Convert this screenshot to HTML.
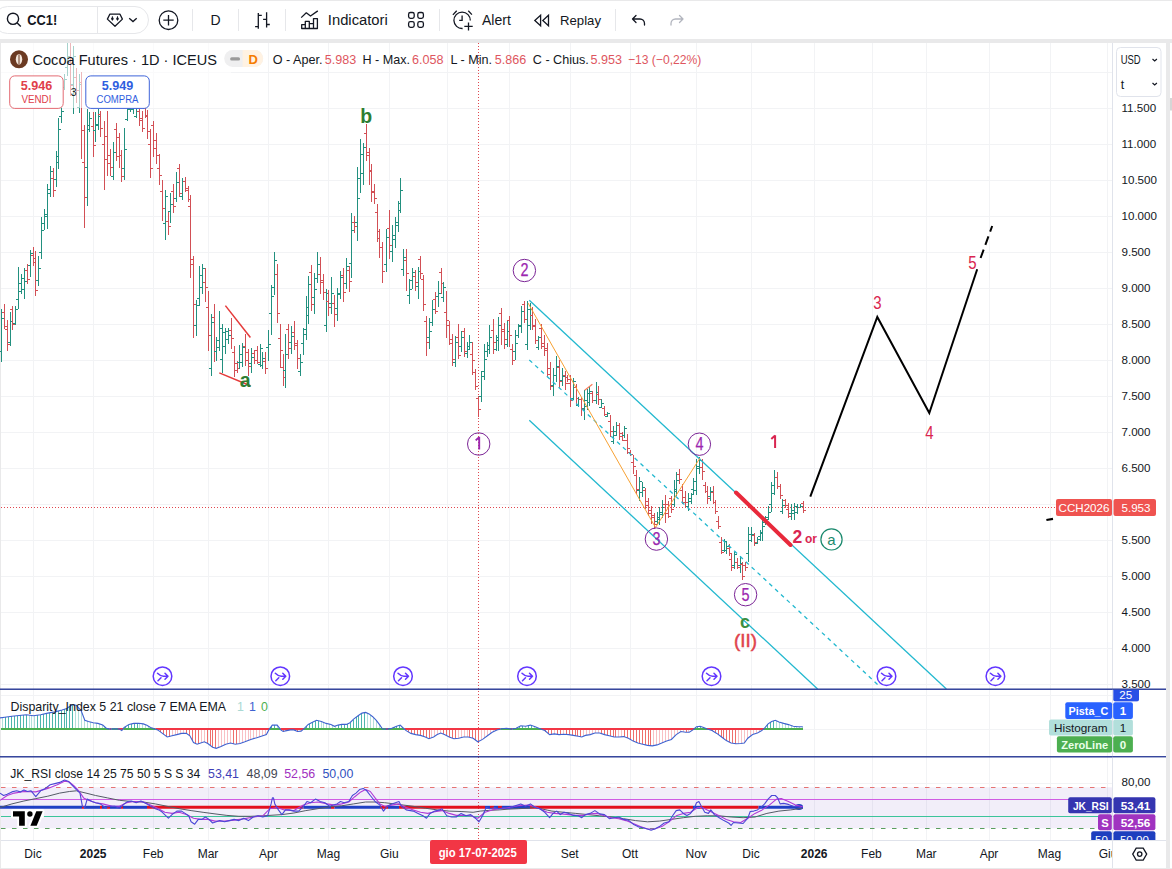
<!DOCTYPE html>
<html><head><meta charset="utf-8"><title>CC1! chart</title>
<style>
html,body{margin:0;padding:0;background:#fff;}
body{width:1172px;height:869px;overflow:hidden;}
svg{display:block;}
svg text{font-family:'Liberation Sans', sans-serif;}
</style></head>
<body><svg width="1172" height="869" viewBox="0 0 1172 869" font-family="'Liberation Sans', sans-serif">
<rect x="0" y="0" width="1172" height="869" fill="#ffffff"/>
<rect x="0" y="0" width="1172" height="1" fill="#e9e9ea"/>
<rect x="0" y="39" width="1172" height="4" fill="#e9e9ea"/>
<rect x="1166" y="39" width="4" height="830" fill="#e9e9ea"/>
<rect x="1170" y="43" width="2" height="825" fill="#ffffff"/>
<rect x="1170" y="98" width="2" height="12.5" fill="#d6d6d6"/>
<rect x="0" y="868" width="1172" height="1" fill="#e9e9ea"/>
<rect x="0" y="43" width="1" height="825" fill="#e9e9ea"/>
<g stroke="#f2f3f5" stroke-width="1" shape-rendering="crispEdges"><line x1="33.5" y1="43" x2="33.5" y2="840" /><line x1="93.5" y1="43" x2="93.5" y2="840" /><line x1="153.5" y1="43" x2="153.5" y2="840" /><line x1="208.5" y1="43" x2="208.5" y2="840" /><line x1="268.5" y1="43" x2="268.5" y2="840" /><line x1="328.5" y1="43" x2="328.5" y2="840" /><line x1="389.5" y1="43" x2="389.5" y2="840" /><line x1="447.5" y1="43" x2="447.5" y2="840" /><line x1="509.5" y1="43" x2="509.5" y2="840" /><line x1="570.5" y1="43" x2="570.5" y2="840" /><line x1="630.5" y1="43" x2="630.5" y2="840" /><line x1="696.5" y1="43" x2="696.5" y2="840" /><line x1="751.5" y1="43" x2="751.5" y2="840" /><line x1="814.5" y1="43" x2="814.5" y2="840" /><line x1="872.5" y1="43" x2="872.5" y2="840" /><line x1="926.5" y1="43" x2="926.5" y2="840" /><line x1="989.5" y1="43" x2="989.5" y2="840" /><line x1="1050.5" y1="43" x2="1050.5" y2="840" /><line x1="1107.5" y1="43" x2="1107.5" y2="840" /><line x1="1" y1="72.5" x2="1112" y2="72.5" /><line x1="1" y1="108.5" x2="1112" y2="108.5" /><line x1="1" y1="144.5" x2="1112" y2="144.5" /><line x1="1" y1="180.5" x2="1112" y2="180.5" /><line x1="1" y1="216.5" x2="1112" y2="216.5" /><line x1="1" y1="252.5" x2="1112" y2="252.5" /><line x1="1" y1="288.5" x2="1112" y2="288.5" /><line x1="1" y1="324.5" x2="1112" y2="324.5" /><line x1="1" y1="360.5" x2="1112" y2="360.5" /><line x1="1" y1="396.5" x2="1112" y2="396.5" /><line x1="1" y1="432.5" x2="1112" y2="432.5" /><line x1="1" y1="468.5" x2="1112" y2="468.5" /><line x1="1" y1="504.5" x2="1112" y2="504.5" /><line x1="1" y1="540.5" x2="1112" y2="540.5" /><line x1="1" y1="576.5" x2="1112" y2="576.5" /><line x1="1" y1="612.5" x2="1112" y2="612.5" /><line x1="1" y1="648.5" x2="1112" y2="648.5" /><line x1="1" y1="684.5" x2="1112" y2="684.5" /><line x1="1" y1="695.5" x2="1112" y2="695.5" /><line x1="1" y1="729.5" x2="1112" y2="729.5" /><line x1="1" y1="783.5" x2="1112" y2="783.5" /></g>
<g fill="none" stroke-width="1" shape-rendering="crispEdges"><path stroke="#22907f" d="M1.5,309V362M-1.0,351.5H1.5M1.5,318.5H4.0"/><path stroke="#d24f55" d="M4.5,304V329M2.0,312.5H4.5M4.5,326.5H7.0"/><path stroke="#d24f55" d="M7.5,320V351M5.0,329.5H7.5M7.5,344.5H10.0"/><path stroke="#22907f" d="M10.5,312V346M8.0,342.5H10.5M10.5,321.5H13.0"/><path stroke="#d24f55" d="M12.5,306V330M10.0,309.5H12.5M12.5,324.5H15.0"/><path stroke="#22907f" d="M15.5,306V325M13.0,323.5H15.5M15.5,309.5H18.0"/><path stroke="#22907f" d="M18.5,267V309M16.0,299.5H18.5M18.5,283.5H21.0"/><path stroke="#22907f" d="M21.5,274V294M19.0,291.5H21.5M21.5,278.5H24.0"/><path stroke="#22907f" d="M24.5,268V299M22.0,289.5H24.5M24.5,281.5H27.0"/><path stroke="#d24f55" d="M27.5,264V284M25.0,270.5H27.5M27.5,279.5H30.0"/><path stroke="#22907f" d="M30.5,250V277M28.0,265.5H30.5M30.5,253.5H33.0"/><path stroke="#d24f55" d="M33.5,247V266M31.0,255.5H33.5M33.5,262.5H36.0"/><path stroke="#d24f55" d="M35.5,251V296M33.0,258.5H35.5M35.5,290.5H38.0"/><path stroke="#22907f" d="M38.5,256V286M36.0,280.5H38.5M38.5,268.5H41.0"/><path stroke="#22907f" d="M41.5,217V259M39.0,252.5H41.5M41.5,230.5H44.0"/><path stroke="#22907f" d="M44.5,209V230M42.0,223.5H44.5M44.5,214.5H47.0"/><path stroke="#22907f" d="M47.5,184V229M45.0,216.5H47.5M47.5,189.5H50.0"/><path stroke="#22907f" d="M50.5,166V197M48.0,193.5H50.5M50.5,171.5H53.0"/><path stroke="#d24f55" d="M53.5,168V197M51.0,178.5H53.5M53.5,190.5H56.0"/><path stroke="#22907f" d="M56.5,151V187M54.0,179.5H56.5M56.5,162.5H59.0"/><path stroke="#22907f" d="M58.5,118V169M56.0,156.5H58.5M58.5,129.5H61.0"/><path stroke="#22907f" d="M61.5,105V123M59.0,116.5H61.5M61.5,111.5H64.0"/><path stroke="#22907f" d="M64.5,74V90M62.0,87.5H64.5M64.5,79.5H67.0"/><path stroke="#22907f" d="M67.5,43V76M65.0,67.5H67.5M67.5,56.5H70.0"/><path stroke="#d24f55" d="M70.5,43V96M68.0,62.5H70.5M70.5,85.5H73.0"/><path stroke="#22907f" d="M73.5,46V114M71.0,84.5H73.5M73.5,56.5H76.0"/><path stroke="#d24f55" d="M76.5,68V103M74.0,77.5H76.5M76.5,90.5H79.0"/><path stroke="#22907f" d="M79.5,74V113M77.0,107.5H79.5M79.5,84.5H82.0"/><path stroke="#d24f55" d="M81.5,72V159M79.0,82.5H81.5M81.5,130.5H84.0"/><path stroke="#d24f55" d="M84.5,125V228M82.0,162.5H84.5M84.5,197.5H87.0"/><path stroke="#22907f" d="M87.5,109V206M85.0,167.5H87.5M87.5,129.5H90.0"/><path stroke="#22907f" d="M89.5,112V132M87.0,125.5H89.5M89.5,118.5H92.0"/><path stroke="#d24f55" d="M93.5,112V157M91.0,126.5H93.5M93.5,145.5H96.0"/><path stroke="#22907f" d="M95.5,112V142M93.0,130.5H95.5M95.5,125.5H98.0"/><path stroke="#22907f" d="M98.5,109V130M96.0,124.5H98.5M98.5,116.5H101.0"/><path stroke="#d24f55" d="M100.5,111V137M98.0,114.5H100.5M100.5,128.5H103.0"/><path stroke="#d24f55" d="M104.5,121V190M102.0,144.5H104.5M104.5,159.5H107.0"/><path stroke="#d24f55" d="M107.5,111V176M105.0,136.5H107.5M107.5,163.5H110.0"/><path stroke="#d24f55" d="M110.5,149V176M108.0,155.5H110.5M110.5,167.5H113.0"/><path stroke="#22907f" d="M113.5,142V180M111.0,176.5H113.5M113.5,152.5H116.0"/><path stroke="#d24f55" d="M116.5,123V161M114.0,129.5H116.5M116.5,156.5H119.0"/><path stroke="#d24f55" d="M119.5,133V168M117.0,137.5H119.5M119.5,155.5H122.0"/><path stroke="#d24f55" d="M121.5,150V182M119.0,155.5H121.5M121.5,176.5H124.0"/><path stroke="#22907f" d="M124.5,128V180M122.0,168.5H124.5M124.5,149.5H127.0"/><path stroke="#22907f" d="M127.5,105V121M125.0,119.5H127.5M127.5,109.5H130.0"/><path stroke="#22907f" d="M130.5,100V112M128.0,108.5H130.5M130.5,105.5H133.0"/><path stroke="#22907f" d="M133.5,102V114M131.0,109.5H133.5M133.5,107.5H136.0"/><path stroke="#22907f" d="M136.5,104V118M134.0,116.5H136.5M136.5,108.5H139.0"/><path stroke="#d24f55" d="M139.5,106V126M137.0,111.5H139.5M139.5,118.5H142.0"/><path stroke="#d24f55" d="M142.5,111V132M140.0,120.5H142.5M142.5,128.5H145.0"/><path stroke="#d24f55" d="M145.5,106V118M143.0,108.5H145.5M145.5,116.5H148.0"/><path stroke="#d24f55" d="M147.5,110V139M145.0,115.5H147.5M147.5,131.5H150.0"/><path stroke="#d24f55" d="M150.5,129V178M148.0,144.5H150.5M150.5,168.5H153.0"/><path stroke="#d24f55" d="M153.5,121V157M151.0,125.5H153.5M153.5,148.5H156.0"/><path stroke="#d24f55" d="M156.5,133V164M154.0,140.5H156.5M156.5,155.5H159.0"/><path stroke="#d24f55" d="M159.5,154V185M157.0,168.5H159.5M159.5,175.5H162.0"/><path stroke="#d24f55" d="M162.5,180V221M160.0,191.5H162.5M162.5,208.5H165.0"/><path stroke="#22907f" d="M165.5,190V240M163.0,223.5H165.5M165.5,196.5H168.0"/><path stroke="#d24f55" d="M168.5,211V235M166.0,221.5H168.5M168.5,226.5H171.0"/><path stroke="#22907f" d="M170.5,193V223M168.0,211.5H170.5M170.5,204.5H173.0"/><path stroke="#d24f55" d="M173.5,184V213M171.0,191.5H173.5M173.5,206.5H176.0"/><path stroke="#22907f" d="M176.5,172V202M174.0,198.5H176.5M176.5,182.5H179.0"/><path stroke="#d24f55" d="M179.5,164V197M177.0,168.5H179.5M179.5,193.5H182.0"/><path stroke="#22907f" d="M182.5,178V200M180.0,196.5H182.5M182.5,181.5H185.0"/><path stroke="#d24f55" d="M185.5,177V192M183.0,181.5H185.5M185.5,190.5H188.0"/><path stroke="#d24f55" d="M188.5,186V202M186.0,188.5H188.5M188.5,199.5H191.0"/><path stroke="#d24f55" d="M190.5,195V278M188.0,206.5H190.5M190.5,259.5H193.0"/><path stroke="#d24f55" d="M193.5,256V338M191.0,264.5H193.5M193.5,304.5H196.0"/><path stroke="#22907f" d="M196.5,300V336M194.0,325.5H196.5M196.5,305.5H199.0"/><path stroke="#22907f" d="M199.5,266V306M197.0,298.5H199.5M199.5,275.5H202.0"/><path stroke="#22907f" d="M202.5,264V294M200.0,287.5H202.5M202.5,268.5H205.0"/><path stroke="#d24f55" d="M205.5,268V302M203.0,282.5H205.5M205.5,287.5H208.0"/><path stroke="#d24f55" d="M208.5,291V351M206.0,307.5H208.5M208.5,335.5H211.0"/><path stroke="#22907f" d="M211.5,314V376M209.0,368.5H211.5M211.5,322.5H214.0"/><path stroke="#d24f55" d="M214.5,304V362M212.0,317.5H214.5M214.5,351.5H217.0"/><path stroke="#22907f" d="M216.5,337V361M214.0,351.5H216.5M216.5,340.5H219.0"/><path stroke="#22907f" d="M219.5,311V351M217.0,347.5H219.5M219.5,328.5H222.0"/><path stroke="#22907f" d="M222.5,324V373M220.0,359.5H222.5M222.5,332.5H225.0"/><path stroke="#22907f" d="M225.5,328V354M223.0,346.5H225.5M225.5,331.5H228.0"/><path stroke="#22907f" d="M228.5,328V344M226.0,339.5H228.5M228.5,335.5H231.0"/><path stroke="#d24f55" d="M231.5,318V349M229.0,330.5H231.5M231.5,338.5H234.0"/><path stroke="#d24f55" d="M234.5,346V377M232.0,352.5H234.5M234.5,370.5H237.0"/><path stroke="#d24f55" d="M237.5,361V373M235.0,363.5H237.5M237.5,368.5H240.0"/><path stroke="#22907f" d="M239.5,345V369M237.0,362.5H239.5M239.5,354.5H242.0"/><path stroke="#22907f" d="M242.5,343V367M240.0,362.5H242.5M242.5,347.5H245.0"/><path stroke="#d24f55" d="M245.5,334V366M243.0,346.5H245.5M245.5,352.5H248.0"/><path stroke="#d24f55" d="M248.5,349V376M246.0,360.5H248.5M248.5,366.5H251.0"/><path stroke="#22907f" d="M251.5,348V373M249.0,363.5H251.5M251.5,357.5H254.0"/><path stroke="#d24f55" d="M254.5,350V364M252.0,353.5H254.5M254.5,360.5H257.0"/><path stroke="#d24f55" d="M257.5,346V364M255.0,350.5H257.5M257.5,362.5H260.0"/><path stroke="#22907f" d="M260.5,344V367M258.0,364.5H260.5M260.5,348.5H263.0"/><path stroke="#22907f" d="M262.5,352V369M260.0,365.5H262.5M262.5,358.5H265.0"/><path stroke="#d24f55" d="M265.5,352V374M263.0,361.5H265.5M265.5,368.5H268.0"/><path stroke="#22907f" d="M268.5,330V361M266.0,347.5H268.5M268.5,344.5H271.0"/><path stroke="#22907f" d="M271.5,285V335M269.0,313.5H271.5M271.5,296.5H274.0"/><path stroke="#22907f" d="M274.5,252V295M272.0,287.5H274.5M274.5,260.5H277.0"/><path stroke="#d24f55" d="M277.5,264V323M275.0,274.5H277.5M277.5,313.5H280.0"/><path stroke="#d24f55" d="M280.5,324V368M278.0,338.5H280.5M280.5,350.5H283.0"/><path stroke="#d24f55" d="M283.5,354V386M281.0,367.5H283.5M283.5,377.5H286.0"/><path stroke="#22907f" d="M285.5,334V388M283.0,370.5H285.5M285.5,354.5H288.0"/><path stroke="#d24f55" d="M288.5,324V359M286.0,329.5H288.5M288.5,348.5H291.0"/><path stroke="#22907f" d="M291.5,326V354M289.0,342.5H291.5M291.5,336.5H294.0"/><path stroke="#d24f55" d="M294.5,321V350M292.0,332.5H294.5M294.5,343.5H297.0"/><path stroke="#d24f55" d="M297.5,340V369M295.0,345.5H297.5M297.5,358.5H300.0"/><path stroke="#22907f" d="M300.5,354V376M298.0,371.5H300.5M300.5,362.5H303.0"/><path stroke="#22907f" d="M303.5,328V355M301.0,343.5H303.5M303.5,334.5H306.0"/><path stroke="#22907f" d="M306.5,296V340M304.0,329.5H306.5M306.5,315.5H309.0"/><path stroke="#22907f" d="M308.5,276V324M306.0,307.5H308.5M308.5,284.5H311.0"/><path stroke="#d24f55" d="M311.5,265V311M309.0,272.5H311.5M311.5,304.5H314.0"/><path stroke="#22907f" d="M314.5,273V314M312.0,297.5H314.5M314.5,289.5H317.0"/><path stroke="#22907f" d="M317.5,252V283M315.0,278.5H317.5M317.5,264.5H320.0"/><path stroke="#d24f55" d="M320.5,257V294M318.0,274.5H320.5M320.5,282.5H323.0"/><path stroke="#d24f55" d="M323.5,274V300M321.0,280.5H323.5M323.5,292.5H326.0"/><path stroke="#22907f" d="M326.5,289V332M324.0,325.5H326.5M326.5,293.5H329.0"/><path stroke="#d24f55" d="M328.5,290V316M326.0,301.5H328.5M328.5,307.5H331.0"/><path stroke="#22907f" d="M331.5,277V314M329.0,303.5H331.5M331.5,293.5H334.0"/><path stroke="#d24f55" d="M334.5,295V327M332.0,303.5H334.5M334.5,314.5H337.0"/><path stroke="#22907f" d="M337.5,288V321M335.0,308.5H337.5M337.5,294.5H340.0"/><path stroke="#22907f" d="M340.5,271V299M338.0,293.5H340.5M340.5,277.5H343.0"/><path stroke="#d24f55" d="M343.5,268V302M341.0,275.5H343.5M343.5,292.5H346.0"/><path stroke="#22907f" d="M346.5,258V289M344.0,283.5H346.5M346.5,266.5H349.0"/><path stroke="#d24f55" d="M349.5,266V292M347.0,270.5H349.5M349.5,281.5H352.0"/><path stroke="#22907f" d="M351.5,213V278M349.0,263.5H351.5M351.5,230.5H354.0"/><path stroke="#d24f55" d="M354.5,216V233M352.0,222.5H354.5M354.5,226.5H357.0"/><path stroke="#22907f" d="M357.5,167V241M355.0,222.5H357.5M357.5,198.5H360.0"/><path stroke="#22907f" d="M360.5,139V193M358.0,178.5H360.5M360.5,154.5H363.0"/><path stroke="#22907f" d="M363.5,143V185M361.0,173.5H363.5M363.5,147.5H366.0"/><path stroke="#d24f55" d="M366.5,124V161M364.0,133.5H366.5M366.5,155.5H369.0"/><path stroke="#d24f55" d="M369.5,148V185M367.0,152.5H369.5M369.5,171.5H372.0"/><path stroke="#d24f55" d="M371.5,164V202M369.0,170.5H371.5M371.5,192.5H374.0"/><path stroke="#d24f55" d="M374.5,184V204M372.0,191.5H374.5M374.5,198.5H377.0"/><path stroke="#d24f55" d="M377.5,204V242M375.0,212.5H377.5M377.5,231.5H380.0"/><path stroke="#d24f55" d="M379.5,229V258M377.0,238.5H379.5M379.5,247.5H382.0"/><path stroke="#d24f55" d="M382.5,242V283M380.0,247.5H382.5M382.5,271.5H385.0"/><path stroke="#22907f" d="M386.5,229V272M384.0,264.5H386.5M386.5,237.5H389.0"/><path stroke="#d24f55" d="M389.5,210V259M387.0,228.5H389.5M389.5,245.5H392.0"/><path stroke="#22907f" d="M392.5,225V262M390.0,251.5H392.5M392.5,239.5H395.0"/><path stroke="#22907f" d="M395.5,217V248M393.0,235.5H395.5M395.5,225.5H398.0"/><path stroke="#22907f" d="M398.5,201V232M396.0,222.5H398.5M398.5,210.5H401.0"/><path stroke="#22907f" d="M400.5,178V213M398.0,203.5H400.5M400.5,190.5H403.0"/><path stroke="#22907f" d="M403.5,249V276M401.0,269.5H403.5M403.5,257.5H406.0"/><path stroke="#d24f55" d="M406.5,249V291M404.0,260.5H406.5M406.5,273.5H409.0"/><path stroke="#22907f" d="M409.5,279V304M407.0,295.5H409.5M409.5,289.5H412.0"/><path stroke="#22907f" d="M412.5,268V289M410.0,280.5H412.5M412.5,272.5H415.0"/><path stroke="#d24f55" d="M415.5,270V291M413.0,276.5H415.5M415.5,282.5H418.0"/><path stroke="#22907f" d="M418.5,267V299M416.0,286.5H418.5M418.5,271.5H421.0"/><path stroke="#d24f55" d="M420.5,256V279M418.0,259.5H420.5M420.5,273.5H423.0"/><path stroke="#d24f55" d="M423.5,275V311M421.0,279.5H423.5M423.5,304.5H426.0"/><path stroke="#d24f55" d="M426.5,316V356M424.0,321.5H426.5M426.5,342.5H429.0"/><path stroke="#22907f" d="M429.5,318V349M427.0,337.5H429.5M429.5,331.5H432.0"/><path stroke="#22907f" d="M432.5,300V326M430.0,322.5H432.5M432.5,309.5H435.0"/><path stroke="#d24f55" d="M435.5,292V314M433.0,299.5H435.5M435.5,311.5H438.0"/><path stroke="#22907f" d="M438.5,281V307M436.0,296.5H438.5M438.5,293.5H441.0"/><path stroke="#d24f55" d="M441.5,268V294M439.0,272.5H441.5M441.5,283.5H444.0"/><path stroke="#22907f" d="M443.5,282V302M441.0,297.5H443.5M443.5,287.5H446.0"/><path stroke="#d24f55" d="M446.5,291V338M444.0,312.5H446.5M446.5,320.5H449.0"/><path stroke="#d24f55" d="M449.5,321V345M447.0,325.5H449.5M449.5,339.5H452.0"/><path stroke="#d24f55" d="M452.5,334V366M450.0,343.5H452.5M452.5,359.5H455.0"/><path stroke="#22907f" d="M455.5,336V367M453.0,362.5H455.5M455.5,342.5H458.0"/><path stroke="#d24f55" d="M458.5,324V359M456.0,337.5H458.5M458.5,355.5H461.0"/><path stroke="#22907f" d="M461.5,331V352M459.0,346.5H461.5M461.5,337.5H464.0"/><path stroke="#d24f55" d="M464.5,328V357M462.0,331.5H464.5M464.5,351.5H467.0"/><path stroke="#22907f" d="M467.5,342V358M465.0,353.5H467.5M467.5,346.5H470.0"/><path stroke="#22907f" d="M469.5,335V350M467.0,349.5H469.5M469.5,342.5H472.0"/><path stroke="#d24f55" d="M472.5,342V375M470.0,354.5H472.5M472.5,360.5H475.0"/><path stroke="#d24f55" d="M475.5,369V390M473.0,372.5H475.5M475.5,386.5H478.0"/><path stroke="#d24f55" d="M478.5,396V417M476.0,398.5H478.5M478.5,409.5H481.0"/><path stroke="#22907f" d="M481.5,371V402M479.0,396.5H481.5M481.5,376.5H484.0"/><path stroke="#22907f" d="M484.5,344V380M482.0,371.5H484.5M484.5,359.5H487.0"/><path stroke="#22907f" d="M487.5,342V357M485.0,351.5H487.5M487.5,345.5H490.0"/><path stroke="#22907f" d="M489.5,325V354M487.0,349.5H489.5M489.5,337.5H492.0"/><path stroke="#d24f55" d="M493.5,319V354M491.0,330.5H493.5M493.5,342.5H496.0"/><path stroke="#22907f" d="M496.5,335V351M494.0,349.5H496.5M496.5,337.5H499.0"/><path stroke="#22907f" d="M498.5,317V351M496.0,340.5H498.5M498.5,325.5H501.0"/><path stroke="#d24f55" d="M501.5,308V345M499.0,313.5H501.5M501.5,329.5H504.0"/><path stroke="#d24f55" d="M504.5,323V349M502.0,331.5H504.5M504.5,339.5H507.0"/><path stroke="#22907f" d="M507.5,320V347M505.0,344.5H507.5M507.5,331.5H510.0"/><path stroke="#d24f55" d="M509.5,316V347M507.0,320.5H509.5M509.5,335.5H512.0"/><path stroke="#d24f55" d="M512.5,344V365M510.0,349.5H512.5M512.5,360.5H515.0"/><path stroke="#22907f" d="M515.5,330V360M513.0,351.5H515.5M515.5,343.5H518.0"/><path stroke="#22907f" d="M518.5,324V338M516.0,335.5H518.5M518.5,326.5H521.0"/><path stroke="#22907f" d="M521.5,306V333M519.0,325.5H521.5M521.5,311.5H524.0"/><path stroke="#d24f55" d="M524.5,301V323M522.0,304.5H524.5M524.5,319.5H527.0"/><path stroke="#22907f" d="M527.5,301V350M525.0,344.5H527.5M527.5,309.5H530.0"/><path stroke="#22907f" d="M530.5,303V330M528.0,325.5H530.5M530.5,309.5H533.0"/><path stroke="#d24f55" d="M532.5,307V330M530.0,315.5H532.5M532.5,325.5H535.0"/><path stroke="#d24f55" d="M535.5,319V344M533.0,326.5H535.5M535.5,340.5H538.0"/><path stroke="#22907f" d="M538.5,336V350M536.0,347.5H538.5M538.5,337.5H541.0"/><path stroke="#d24f55" d="M541.5,324V349M539.0,328.5H541.5M541.5,346.5H544.0"/><path stroke="#d24f55" d="M544.5,335V356M542.0,343.5H544.5M544.5,350.5H547.0"/><path stroke="#d24f55" d="M547.5,343V377M545.0,348.5H547.5M547.5,368.5H550.0"/><path stroke="#d24f55" d="M550.5,362V390M548.0,374.5H550.5M550.5,386.5H553.0"/><path stroke="#22907f" d="M553.5,368V396M551.0,385.5H553.5M553.5,375.5H556.0"/><path stroke="#22907f" d="M556.5,356V382M554.0,375.5H556.5M556.5,366.5H559.0"/><path stroke="#d24f55" d="M559.5,360V388M557.0,367.5H559.5M559.5,381.5H562.0"/><path stroke="#22907f" d="M562.5,368V386M560.0,380.5H562.5M562.5,376.5H565.0"/><path stroke="#d24f55" d="M565.5,371V390M563.0,375.5H565.5M565.5,383.5H568.0"/><path stroke="#d24f55" d="M567.5,375V382M565.0,377.5H567.5M567.5,379.5H570.0"/><path stroke="#d24f55" d="M570.5,375V407M568.0,383.5H570.5M570.5,400.5H573.0"/><path stroke="#22907f" d="M573.5,378V400M571.0,398.5H573.5M573.5,381.5H576.0"/><path stroke="#d24f55" d="M576.5,384V406M574.0,387.5H576.5M576.5,398.5H579.0"/><path stroke="#22907f" d="M578.5,397V407M576.0,405.5H578.5M578.5,399.5H581.0"/><path stroke="#d24f55" d="M581.5,397V416M579.0,399.5H581.5M581.5,409.5H584.0"/><path stroke="#22907f" d="M584.5,390V420M582.0,408.5H584.5M584.5,400.5H587.0"/><path stroke="#22907f" d="M587.5,389V410M585.0,406.5H587.5M587.5,393.5H590.0"/><path stroke="#22907f" d="M589.5,386V406M587.0,402.5H589.5M589.5,391.5H592.0"/><path stroke="#d24f55" d="M592.5,391V403M590.0,393.5H592.5M592.5,400.5H595.0"/><path stroke="#22907f" d="M596.5,382V404M594.0,400.5H596.5M596.5,392.5H599.0"/><path stroke="#d24f55" d="M598.5,386V405M596.0,394.5H598.5M598.5,399.5H601.0"/><path stroke="#22907f" d="M601.5,399V408M599.0,407.5H601.5M601.5,403.5H604.0"/><path stroke="#d24f55" d="M604.5,406V416M602.0,408.5H604.5M604.5,414.5H607.0"/><path stroke="#22907f" d="M607.5,412V417M605.0,416.5H607.5M607.5,413.5H610.0"/><path stroke="#d24f55" d="M610.5,415V437M608.0,421.5H610.5M610.5,431.5H613.0"/><path stroke="#22907f" d="M613.5,426V444M611.0,441.5H613.5M613.5,431.5H616.0"/><path stroke="#22907f" d="M616.5,422V436M614.0,435.5H616.5M616.5,425.5H619.0"/><path stroke="#d24f55" d="M619.5,423V440M617.0,425.5H619.5M619.5,436.5H622.0"/><path stroke="#d24f55" d="M622.5,432V441M620.0,433.5H622.5M622.5,440.5H625.0"/><path stroke="#22907f" d="M624.5,426V438M622.0,435.5H624.5M624.5,428.5H627.0"/><path stroke="#d24f55" d="M627.5,434V454M625.0,440.5H627.5M627.5,448.5H630.0"/><path stroke="#d24f55" d="M630.5,450V456M628.0,452.5H630.5M630.5,454.5H633.0"/><path stroke="#d24f55" d="M633.5,455V474M631.0,462.5H633.5M633.5,466.5H636.0"/><path stroke="#d24f55" d="M636.5,470V494M634.0,475.5H636.5M636.5,489.5H639.0"/><path stroke="#22907f" d="M639.5,477V501M637.0,490.5H639.5M639.5,481.5H642.0"/><path stroke="#22907f" d="M642.5,482V497M640.0,492.5H642.5M642.5,487.5H645.0"/><path stroke="#d24f55" d="M645.5,488V509M643.0,490.5H645.5M645.5,501.5H648.0"/><path stroke="#d24f55" d="M648.5,498V516M646.0,505.5H648.5M648.5,510.5H651.0"/><path stroke="#d24f55" d="M651.5,506V524M649.0,513.5H651.5M651.5,517.5H654.0"/><path stroke="#d24f55" d="M654.5,513V529M652.0,515.5H654.5M654.5,524.5H657.0"/><path stroke="#22907f" d="M657.5,512V524M655.0,521.5H657.5M657.5,517.5H660.0"/><path stroke="#22907f" d="M659.5,507V525M657.0,519.5H659.5M659.5,514.5H662.0"/><path stroke="#22907f" d="M662.5,500V518M660.0,512.5H662.5M662.5,507.5H665.0"/><path stroke="#d24f55" d="M665.5,495V523M663.0,504.5H665.5M665.5,513.5H668.0"/><path stroke="#d24f55" d="M668.5,501V518M666.0,504.5H668.5M668.5,516.5H671.0"/><path stroke="#d24f55" d="M671.5,496V513M669.0,498.5H671.5M671.5,509.5H674.0"/><path stroke="#22907f" d="M674.5,480V507M672.0,504.5H674.5M674.5,491.5H677.0"/><path stroke="#22907f" d="M676.5,472V496M674.0,489.5H676.5M676.5,480.5H679.0"/><path stroke="#d24f55" d="M679.5,469V484M677.0,474.5H679.5M679.5,479.5H682.0"/><path stroke="#d24f55" d="M682.5,484V504M680.0,490.5H682.5M682.5,502.5H685.0"/><path stroke="#d24f55" d="M685.5,491V507M683.0,497.5H685.5M685.5,502.5H688.0"/><path stroke="#22907f" d="M688.5,493V511M686.0,506.5H688.5M688.5,498.5H691.0"/><path stroke="#22907f" d="M691.5,493V504M689.0,501.5H691.5M691.5,494.5H694.0"/><path stroke="#22907f" d="M693.5,478V495M691.0,489.5H693.5M693.5,481.5H696.0"/><path stroke="#22907f" d="M696.5,459V495M694.0,490.5H696.5M696.5,466.5H699.0"/><path stroke="#22907f" d="M699.5,457V474M697.0,468.5H699.5M699.5,460.5H702.0"/><path stroke="#d24f55" d="M702.5,459V480M700.0,467.5H702.5M702.5,471.5H705.0"/><path stroke="#d24f55" d="M705.5,482V493M703.0,485.5H705.5M705.5,491.5H708.0"/><path stroke="#d24f55" d="M707.5,486V504M705.0,491.5H707.5M707.5,498.5H710.0"/><path stroke="#22907f" d="M710.5,487V501M708.0,496.5H710.5M710.5,491.5H713.0"/><path stroke="#d24f55" d="M713.5,486V504M711.0,492.5H713.5M713.5,502.5H716.0"/><path stroke="#d24f55" d="M715.5,500V514M713.0,502.5H715.5M715.5,511.5H718.0"/><path stroke="#d24f55" d="M718.5,516V529M716.0,521.5H718.5M718.5,526.5H721.0"/><path stroke="#d24f55" d="M721.5,537V554M719.0,542.5H721.5M721.5,552.5H724.0"/><path stroke="#22907f" d="M724.5,539V552M722.0,550.5H724.5M724.5,541.5H727.0"/><path stroke="#22907f" d="M726.5,542V554M724.0,550.5H726.5M726.5,546.5H729.0"/><path stroke="#d24f55" d="M729.5,544V556M727.0,548.5H729.5M729.5,553.5H732.0"/><path stroke="#d24f55" d="M731.5,554V571M729.0,559.5H731.5M731.5,567.5H734.0"/><path stroke="#22907f" d="M734.5,552V569M732.0,565.5H734.5M734.5,554.5H737.0"/><path stroke="#d24f55" d="M737.5,558V569M735.0,562.5H737.5M737.5,567.5H740.0"/><path stroke="#22907f" d="M740.5,556V573M738.0,565.5H740.5M740.5,563.5H743.0"/><path stroke="#d24f55" d="M742.5,562V580M740.0,564.5H742.5M742.5,576.5H745.0"/><path stroke="#d24f55" d="M745.5,562V571M743.0,565.5H745.5M745.5,567.5H748.0"/><path stroke="#22907f" d="M748.5,527V562M746.0,553.5H748.5M748.5,534.5H751.0"/><path stroke="#22907f" d="M751.5,527V542M749.0,540.5H751.5M751.5,534.5H754.0"/><path stroke="#d24f55" d="M754.5,533V546M752.0,535.5H754.5M754.5,542.5H757.0"/><path stroke="#22907f" d="M757.5,537V544M755.0,543.5H757.5M757.5,539.5H760.0"/><path stroke="#22907f" d="M760.5,530V541M758.0,536.5H760.5M760.5,532.5H763.0"/><path stroke="#22907f" d="M762.5,520V541M760.0,533.5H762.5M762.5,526.5H765.0"/><path stroke="#22907f" d="M765.5,516V525M763.0,522.5H765.5M765.5,519.5H768.0"/><path stroke="#22907f" d="M768.5,506V520M766.0,517.5H768.5M768.5,512.5H771.0"/><path stroke="#22907f" d="M771.5,482V512M769.0,504.5H771.5M771.5,485.5H774.0"/><path stroke="#22907f" d="M774.5,470V495M772.0,493.5H774.5M774.5,477.5H777.0"/><path stroke="#d24f55" d="M777.5,472V489M775.0,477.5H777.5M777.5,486.5H780.0"/><path stroke="#d24f55" d="M780.5,484V499M778.0,486.5H780.5M780.5,495.5H783.0"/><path stroke="#22907f" d="M782.5,499V514M780.0,511.5H782.5M782.5,505.5H785.0"/><path stroke="#d24f55" d="M785.5,499V508M783.0,500.5H785.5M785.5,505.5H788.0"/><path stroke="#d24f55" d="M788.5,503V518M786.0,509.5H788.5M788.5,516.5H791.0"/><path stroke="#22907f" d="M791.5,504V520M789.0,513.5H791.5M791.5,510.5H794.0"/><path stroke="#22907f" d="M794.5,503V520M792.0,513.5H794.5M794.5,506.5H797.0"/><path stroke="#22907f" d="M797.5,504V514M795.0,512.5H797.5M797.5,507.5H800.0"/><path stroke="#22907f" d="M800.5,504V508M798.0,507.5H800.5M800.5,506.5H803.0"/><path stroke="#d24f55" d="M803.5,501V513M801.0,503.5H803.5M803.5,510.5H806.0"/></g>
<rect x="1" y="43" width="230" height="65" fill="#ffffff" fill-opacity="0.6"/>
<line x1="1" y1="507.5" x2="1056" y2="507.5" stroke="#e0474f" stroke-width="1" stroke-dasharray="1 2"/>
<line x1="478.5" y1="43" x2="478.5" y2="840" stroke="#e0474f" stroke-width="1" stroke-dasharray="1 2"/>
<line x1="529.3" y1="300.3" x2="946.4" y2="689.0" stroke="#22b8cf" stroke-width="1.3"/>
<line x1="529.3" y1="420.3" x2="817.6" y2="689.0" stroke="#22b8cf" stroke-width="1.3"/>
<line x1="529.3" y1="359.9" x2="878.8" y2="685.6" stroke="#22b8cf" stroke-width="1.3" stroke-dasharray="4 4"/>
<polyline points="528,303 655.5,527.5 700,458" fill="none" stroke="#f7a133" stroke-width="1"/>
<line x1="584.7" y1="390.2" x2="592.4" y2="384.2" stroke="#f77c5a" stroke-width="1.2"/>
<line x1="736" y1="492.5" x2="790.5" y2="545" stroke="#e8293b" stroke-width="4" stroke-linecap="round"/>
<line x1="225.4" y1="305.6" x2="250.4" y2="337.5" stroke="#e53a3a" stroke-width="1.5"/>
<line x1="219.3" y1="372.9" x2="250.4" y2="385.8" stroke="#e53a3a" stroke-width="1.5"/>
<polyline points="810.3,496.6 877.3,316.9 929.3,413 977.2,269.3" fill="none" stroke="#000" stroke-width="2"/>
<line x1="980.6" y1="258" x2="992.2" y2="226" stroke="#000" stroke-width="2" stroke-dasharray="9 5"/>
<line x1="1046.4" y1="520" x2="1053" y2="518.8" stroke="#000" stroke-width="2.2"/>
<circle cx="478.7" cy="444" r="11.2" fill="none" stroke="#7b2596" stroke-width="1"/>
<path d="M479.2,436.8 V449.4 M479.2,437.1 L475.7,440.4" fill="none" stroke="#9c27b0" stroke-width="1.9" stroke-linejoin="round"/>
<circle cx="524.4" cy="270.5" r="11.2" fill="none" stroke="#7b2596" stroke-width="1"/>
<text x="524.4" y="276.3" font-size="17.5" fill="#9c27b0" style="color:#9c27b0" font-weight="normal" text-anchor="middle" stroke="#9c27b0" stroke-width="0.25" textLength="8" lengthAdjust="spacingAndGlyphs">2</text>
<circle cx="656.4" cy="539.1" r="11.2" fill="none" stroke="#7b2596" stroke-width="1"/>
<text x="656.4" y="544.9" font-size="17.5" fill="#9c27b0" style="color:#9c27b0" font-weight="normal" text-anchor="middle" stroke="#9c27b0" stroke-width="0.25" textLength="8" lengthAdjust="spacingAndGlyphs">3</text>
<circle cx="699.4" cy="444.2" r="11.2" fill="none" stroke="#7b2596" stroke-width="1"/>
<text x="699.4" y="450.0" font-size="17.5" fill="#9c27b0" style="color:#9c27b0" font-weight="normal" text-anchor="middle" stroke="#9c27b0" stroke-width="0.25" textLength="8" lengthAdjust="spacingAndGlyphs">4</text>
<circle cx="745.6" cy="594.7" r="11.2" fill="none" stroke="#7b2596" stroke-width="1"/>
<text x="745.6" y="600.5" font-size="17.5" fill="#9c27b0" style="color:#9c27b0" font-weight="normal" text-anchor="middle" stroke="#9c27b0" stroke-width="0.25" textLength="8" lengthAdjust="spacingAndGlyphs">5</text>
<text x="366.3" y="123.3" font-size="19.5" fill="#2e7d32" style="color:#2e7d32" font-weight="bold" text-anchor="middle" >b</text>
<text x="245.2" y="386.5" font-size="19.5" fill="#2e7d32" style="color:#2e7d32" font-weight="bold" text-anchor="middle" >a</text>
<text x="745" y="627.5" font-size="18" fill="#3c8f40" style="color:#3c8f40" font-weight="bold" text-anchor="middle" >c</text>
<text x="745.6" y="647" font-size="18.5" fill="#e0444e" style="color:#e0444e" font-weight="normal" text-anchor="middle" stroke="#e0444e" stroke-width="0.5" textLength="23" lengthAdjust="spacingAndGlyphs">(II)</text>
<path d="M775.1,435.3 V448 M775.1,435.6 L771.3,439" fill="none" stroke="#d92550" stroke-width="2" stroke-linejoin="round"/>
<text x="797.3" y="542.7" font-size="17.5" fill="#d92550" style="color:#d92550" font-weight="bold" text-anchor="middle" >2</text>
<text x="810.9" y="542.7" font-size="12" fill="#d92550" style="color:#d92550" font-weight="bold" text-anchor="middle" >or</text>
<circle cx="831.5" cy="539.4" r="10.6" fill="none" stroke="#1b8a6e" stroke-width="1.2"/>
<text x="831.5" y="544.5" font-size="15" fill="#1b8a6e" style="color:#1b8a6e" font-weight="normal" text-anchor="middle" >a</text>
<text x="877.5" y="309" font-size="18.3" fill="#d92550" style="color:#d92550" font-weight="normal" text-anchor="middle"  textLength="8.3" lengthAdjust="spacingAndGlyphs">3</text>
<text x="929.3" y="439" font-size="18.3" fill="#d92550" style="color:#d92550" font-weight="normal" text-anchor="middle"  textLength="8.3" lengthAdjust="spacingAndGlyphs">4</text>
<text x="972.4" y="269" font-size="18.3" fill="#d92550" style="color:#d92550" font-weight="normal" text-anchor="middle"  textLength="8.3" lengthAdjust="spacingAndGlyphs">5</text>
<g transform="translate(162.5,676.2)" fill="none" stroke="#6236ff" stroke-width="1.5" stroke-linecap="round" stroke-linejoin="round"><circle r="9.3"/><path d="M-5,-3 Q-2,0 1,0 H5.5 M2.5,-3 L5.5,0 L2.5,3 M-1.5,1.5 L-4.5,4.5"/></g>
<g transform="translate(280.3,676.2)" fill="none" stroke="#6236ff" stroke-width="1.5" stroke-linecap="round" stroke-linejoin="round"><circle r="9.3"/><path d="M-5,-3 Q-2,0 1,0 H5.5 M2.5,-3 L5.5,0 L2.5,3 M-1.5,1.5 L-4.5,4.5"/></g>
<g transform="translate(403,676.2)" fill="none" stroke="#6236ff" stroke-width="1.5" stroke-linecap="round" stroke-linejoin="round"><circle r="9.3"/><path d="M-5,-3 Q-2,0 1,0 H5.5 M2.5,-3 L5.5,0 L2.5,3 M-1.5,1.5 L-4.5,4.5"/></g>
<g transform="translate(527,676.2)" fill="none" stroke="#6236ff" stroke-width="1.5" stroke-linecap="round" stroke-linejoin="round"><circle r="9.3"/><path d="M-5,-3 Q-2,0 1,0 H5.5 M2.5,-3 L5.5,0 L2.5,3 M-1.5,1.5 L-4.5,4.5"/></g>
<g transform="translate(711.5,676.2)" fill="none" stroke="#6236ff" stroke-width="1.5" stroke-linecap="round" stroke-linejoin="round"><circle r="9.3"/><path d="M-5,-3 Q-2,0 1,0 H5.5 M2.5,-3 L5.5,0 L2.5,3 M-1.5,1.5 L-4.5,4.5"/></g>
<g transform="translate(886.5,676.2)" fill="none" stroke="#6236ff" stroke-width="1.5" stroke-linecap="round" stroke-linejoin="round"><circle r="9.3"/><path d="M-5,-3 Q-2,0 1,0 H5.5 M2.5,-3 L5.5,0 L2.5,3 M-1.5,1.5 L-4.5,4.5"/></g>
<g transform="translate(995.4,676.2)" fill="none" stroke="#6236ff" stroke-width="1.5" stroke-linecap="round" stroke-linejoin="round"><circle r="9.3"/><path d="M-5,-3 Q-2,0 1,0 H5.5 M2.5,-3 L5.5,0 L2.5,3 M-1.5,1.5 L-4.5,4.5"/></g>
<rect x="1112" y="43" width="54" height="797" fill="#ffffff"/>
<line x1="1112.5" y1="43" x2="1112.5" y2="868" stroke="#e0e3eb" stroke-width="1"/>
<rect x="1116.5" y="47.5" width="44.5" height="49" rx="4" fill="#fff" stroke="#e0e3eb"/>
<text x="1120.7" y="64" font-size="12.5" fill="#131722" style="color:#131722" font-weight="normal" text-anchor="start"  textLength="20" lengthAdjust="spacingAndGlyphs">USD</text>
<text x="1120.7" y="88.5" font-size="12.5" fill="#131722" style="color:#131722" font-weight="normal" text-anchor="start" >t</text>
<path d="M1152.5,59 l2.2,2 l2.2,-2" fill="none" stroke="#131722" stroke-width="1.2"/>
<path d="M1152.5,83 l2.2,2 l2.2,-2" fill="none" stroke="#131722" stroke-width="1.2"/>
<text x="1121.5" y="112.3" font-size="11.6" fill="#131722" style="color:#131722" font-weight="normal" text-anchor="start" >11.500</text>
<text x="1121.5" y="148.3" font-size="11.6" fill="#131722" style="color:#131722" font-weight="normal" text-anchor="start" >11.000</text>
<text x="1121.5" y="184.3" font-size="11.6" fill="#131722" style="color:#131722" font-weight="normal" text-anchor="start" >10.500</text>
<text x="1121.5" y="220.3" font-size="11.6" fill="#131722" style="color:#131722" font-weight="normal" text-anchor="start" >10.000</text>
<text x="1121.5" y="256.3" font-size="11.6" fill="#131722" style="color:#131722" font-weight="normal" text-anchor="start" >9.500</text>
<text x="1121.5" y="292.3" font-size="11.6" fill="#131722" style="color:#131722" font-weight="normal" text-anchor="start" >9.000</text>
<text x="1121.5" y="328.3" font-size="11.6" fill="#131722" style="color:#131722" font-weight="normal" text-anchor="start" >8.500</text>
<text x="1121.5" y="364.3" font-size="11.6" fill="#131722" style="color:#131722" font-weight="normal" text-anchor="start" >8.000</text>
<text x="1121.5" y="400.3" font-size="11.6" fill="#131722" style="color:#131722" font-weight="normal" text-anchor="start" >7.500</text>
<text x="1121.5" y="436.3" font-size="11.6" fill="#131722" style="color:#131722" font-weight="normal" text-anchor="start" >7.000</text>
<text x="1121.5" y="472.3" font-size="11.6" fill="#131722" style="color:#131722" font-weight="normal" text-anchor="start" >6.500</text>
<text x="1121.5" y="544.3" font-size="11.6" fill="#131722" style="color:#131722" font-weight="normal" text-anchor="start" >5.500</text>
<text x="1121.5" y="580.3" font-size="11.6" fill="#131722" style="color:#131722" font-weight="normal" text-anchor="start" >5.000</text>
<text x="1121.5" y="616.3" font-size="11.6" fill="#131722" style="color:#131722" font-weight="normal" text-anchor="start" >4.500</text>
<text x="1121.5" y="652.3" font-size="11.6" fill="#131722" style="color:#131722" font-weight="normal" text-anchor="start" >4.000</text>
<text x="1121.5" y="688.3" font-size="11.6" fill="#131722" style="color:#131722" font-weight="normal" text-anchor="start" >3.500</text>
<rect x="1056" y="499" width="56" height="17" rx="2" fill="#ef5350"/>
<text x="1084" y="512" font-size="11.6" fill="#fff" style="color:#fff" font-weight="normal" text-anchor="middle" >CCH2026</text>
<rect x="1113.5" y="499" width="42.5" height="17" rx="2" fill="#ef5350"/>
<text x="1121.5" y="512" font-size="11.6" fill="#fff" style="color:#fff" font-weight="normal" text-anchor="start" >5.953</text>
<rect x="0" y="688.7" width="1166" height="1.1" fill="#30409a"/>
<rect x="0" y="756.2" width="1166" height="1.1" fill="#30409a"/>
<g stroke-width="1" shape-rendering="crispEdges"><line x1="2.5" y1="729" x2="2.5" y2="717.5" stroke="#b2dfdb"/><line x1="5.5" y1="729" x2="5.5" y2="717.1" stroke="#4db6ac"/><line x1="8.5" y1="729" x2="8.5" y2="716.7" stroke="#4db6ac"/><line x1="11.5" y1="729" x2="11.5" y2="716.3" stroke="#4db6ac"/><line x1="14.5" y1="729" x2="14.5" y2="716.0" stroke="#4db6ac"/><line x1="17.5" y1="729" x2="17.5" y2="715.7" stroke="#4db6ac"/><line x1="20.5" y1="729" x2="20.5" y2="715.4" stroke="#4db6ac"/><line x1="23.5" y1="729" x2="23.5" y2="715.1" stroke="#4db6ac"/><line x1="26.5" y1="729" x2="26.5" y2="714.8" stroke="#4db6ac"/><line x1="29.5" y1="729" x2="29.5" y2="715.2" stroke="#b2dfdb"/><line x1="31.5" y1="729" x2="31.5" y2="715.6" stroke="#b2dfdb"/><line x1="34.5" y1="729" x2="34.5" y2="715.6" stroke="#b2dfdb"/><line x1="37.5" y1="729" x2="37.5" y2="715.2" stroke="#4db6ac"/><line x1="40.5" y1="729" x2="40.5" y2="714.8" stroke="#4db6ac"/><line x1="43.5" y1="729" x2="43.5" y2="714.1" stroke="#4db6ac"/><line x1="46.5" y1="729" x2="46.5" y2="713.4" stroke="#4db6ac"/><line x1="49.5" y1="729" x2="49.5" y2="712.9" stroke="#4db6ac"/><line x1="52.5" y1="729" x2="52.5" y2="712.4" stroke="#4db6ac"/><line x1="55.5" y1="729" x2="55.5" y2="711.8" stroke="#4db6ac"/><line x1="58.5" y1="729" x2="58.5" y2="711.1" stroke="#4db6ac"/><line x1="61.5" y1="729" x2="61.5" y2="710.3" stroke="#4db6ac"/><line x1="64.5" y1="729" x2="64.5" y2="709.4" stroke="#4db6ac"/><line x1="66.5" y1="729" x2="66.5" y2="708.3" stroke="#4db6ac"/><line x1="69.5" y1="729" x2="69.5" y2="706.1" stroke="#4db6ac"/><line x1="72.5" y1="729" x2="72.5" y2="704.9" stroke="#4db6ac"/><line x1="75.5" y1="729" x2="75.5" y2="705.2" stroke="#b2dfdb"/><line x1="78.5" y1="729" x2="78.5" y2="707.8" stroke="#b2dfdb"/><line x1="81.5" y1="729" x2="81.5" y2="711.7" stroke="#b2dfdb"/><line x1="84.5" y1="729" x2="84.5" y2="719.5" stroke="#b2dfdb"/><line x1="87.5" y1="729" x2="87.5" y2="721.2" stroke="#b2dfdb"/><line x1="90.5" y1="729" x2="90.5" y2="722.0" stroke="#b2dfdb"/><line x1="93.5" y1="729" x2="93.5" y2="722.7" stroke="#b2dfdb"/><line x1="96.5" y1="729" x2="96.5" y2="723.1" stroke="#b2dfdb"/><line x1="99.5" y1="729" x2="99.5" y2="723.8" stroke="#b2dfdb"/><line x1="102.5" y1="729" x2="102.5" y2="724.8" stroke="#b2dfdb"/><line x1="104.5" y1="729" x2="104.5" y2="727.0" stroke="#b2dfdb"/><line x1="107.5" y1="729" x2="107.5" y2="728.6" stroke="#b2dfdb"/><line x1="110.5" y1="729" x2="110.5" y2="729.1" stroke="#ef6f6c"/><line x1="113.5" y1="729" x2="113.5" y2="728.8" stroke="#4db6ac"/><line x1="116.5" y1="729" x2="116.5" y2="728.9" stroke="#b2dfdb"/><line x1="119.5" y1="729" x2="119.5" y2="729.2" stroke="#ef6f6c"/><line x1="122.5" y1="729" x2="122.5" y2="729.8" stroke="#ef6f6c"/><line x1="125.5" y1="729" x2="125.5" y2="726.7" stroke="#4db6ac"/><line x1="128.5" y1="729" x2="128.5" y2="724.8" stroke="#4db6ac"/><line x1="131.5" y1="729" x2="131.5" y2="723.9" stroke="#4db6ac"/><line x1="134.5" y1="729" x2="134.5" y2="723.4" stroke="#4db6ac"/><line x1="137.5" y1="729" x2="137.5" y2="723.2" stroke="#4db6ac"/><line x1="139.5" y1="729" x2="139.5" y2="723.4" stroke="#b2dfdb"/><line x1="142.5" y1="729" x2="142.5" y2="723.8" stroke="#b2dfdb"/><line x1="145.5" y1="729" x2="145.5" y2="724.9" stroke="#b2dfdb"/><line x1="148.5" y1="729" x2="148.5" y2="726.4" stroke="#b2dfdb"/><line x1="151.5" y1="729" x2="151.5" y2="727.8" stroke="#b2dfdb"/><line x1="154.5" y1="729" x2="154.5" y2="728.8" stroke="#b2dfdb"/><line x1="157.5" y1="729" x2="157.5" y2="729.8" stroke="#ef6f6c"/><line x1="160.5" y1="729" x2="160.5" y2="731.9" stroke="#ef6f6c"/><line x1="163.5" y1="729" x2="163.5" y2="734.1" stroke="#ef6f6c"/><line x1="166.5" y1="729" x2="166.5" y2="736.3" stroke="#ef6f6c"/><line x1="169.5" y1="729" x2="169.5" y2="736.5" stroke="#ef6f6c"/><line x1="172.5" y1="729" x2="172.5" y2="735.8" stroke="#f9c0c4"/><line x1="175.5" y1="729" x2="175.5" y2="735.1" stroke="#f9c0c4"/><line x1="177.5" y1="729" x2="177.5" y2="734.3" stroke="#f9c0c4"/><line x1="180.5" y1="729" x2="180.5" y2="733.6" stroke="#f9c0c4"/><line x1="183.5" y1="729" x2="183.5" y2="733.4" stroke="#f9c0c4"/><line x1="186.5" y1="729" x2="186.5" y2="733.7" stroke="#ef6f6c"/><line x1="189.5" y1="729" x2="189.5" y2="735.6" stroke="#ef6f6c"/><line x1="192.5" y1="729" x2="192.5" y2="740.7" stroke="#ef6f6c"/><line x1="195.5" y1="729" x2="195.5" y2="743.4" stroke="#ef6f6c"/><line x1="198.5" y1="729" x2="198.5" y2="743.8" stroke="#ef6f6c"/><line x1="201.5" y1="729" x2="201.5" y2="742.8" stroke="#f9c0c4"/><line x1="204.5" y1="729" x2="204.5" y2="741.8" stroke="#f9c0c4"/><line x1="207.5" y1="729" x2="207.5" y2="743.2" stroke="#ef6f6c"/><line x1="210.5" y1="729" x2="210.5" y2="745.3" stroke="#ef6f6c"/><line x1="212.5" y1="729" x2="212.5" y2="747.4" stroke="#ef6f6c"/><line x1="215.5" y1="729" x2="215.5" y2="748.2" stroke="#ef6f6c"/><line x1="218.5" y1="729" x2="218.5" y2="747.3" stroke="#f9c0c4"/><line x1="221.5" y1="729" x2="221.5" y2="746.2" stroke="#f9c0c4"/><line x1="224.5" y1="729" x2="224.5" y2="744.7" stroke="#f9c0c4"/><line x1="227.5" y1="729" x2="227.5" y2="743.7" stroke="#f9c0c4"/><line x1="230.5" y1="729" x2="230.5" y2="743.0" stroke="#f9c0c4"/><line x1="233.5" y1="729" x2="233.5" y2="743.7" stroke="#ef6f6c"/><line x1="236.5" y1="729" x2="236.5" y2="744.0" stroke="#ef6f6c"/><line x1="239.5" y1="729" x2="239.5" y2="743.6" stroke="#f9c0c4"/><line x1="242.5" y1="729" x2="242.5" y2="742.7" stroke="#f9c0c4"/><line x1="245.5" y1="729" x2="245.5" y2="741.7" stroke="#f9c0c4"/><line x1="248.5" y1="729" x2="248.5" y2="740.5" stroke="#f9c0c4"/><line x1="250.5" y1="729" x2="250.5" y2="739.4" stroke="#f9c0c4"/><line x1="253.5" y1="729" x2="253.5" y2="738.6" stroke="#f9c0c4"/><line x1="256.5" y1="729" x2="256.5" y2="737.8" stroke="#f9c0c4"/><line x1="259.5" y1="729" x2="259.5" y2="736.8" stroke="#f9c0c4"/><line x1="262.5" y1="729" x2="262.5" y2="735.9" stroke="#f9c0c4"/><line x1="265.5" y1="729" x2="265.5" y2="734.9" stroke="#f9c0c4"/><line x1="268.5" y1="729" x2="268.5" y2="730.4" stroke="#f9c0c4"/><line x1="271.5" y1="729" x2="271.5" y2="726.4" stroke="#4db6ac"/><line x1="274.5" y1="729" x2="274.5" y2="725.1" stroke="#4db6ac"/><line x1="277.5" y1="729" x2="277.5" y2="725.2" stroke="#b2dfdb"/><line x1="280.5" y1="729" x2="280.5" y2="729.0" stroke="#ef6f6c"/><line x1="283.5" y1="729" x2="283.5" y2="731.5" stroke="#ef6f6c"/><line x1="285.5" y1="729" x2="285.5" y2="730.8" stroke="#f9c0c4"/><line x1="288.5" y1="729" x2="288.5" y2="730.1" stroke="#f9c0c4"/><line x1="291.5" y1="729" x2="291.5" y2="729.9" stroke="#f9c0c4"/><line x1="294.5" y1="729" x2="294.5" y2="730.3" stroke="#ef6f6c"/><line x1="297.5" y1="729" x2="297.5" y2="731.5" stroke="#ef6f6c"/><line x1="300.5" y1="729" x2="300.5" y2="731.1" stroke="#f9c0c4"/><line x1="303.5" y1="729" x2="303.5" y2="729.1" stroke="#f9c0c4"/><line x1="306.5" y1="729" x2="306.5" y2="726.3" stroke="#4db6ac"/><line x1="309.5" y1="729" x2="309.5" y2="723.8" stroke="#4db6ac"/><line x1="312.5" y1="729" x2="312.5" y2="722.3" stroke="#4db6ac"/><line x1="315.5" y1="729" x2="315.5" y2="721.0" stroke="#4db6ac"/><line x1="318.5" y1="729" x2="318.5" y2="720.7" stroke="#4db6ac"/><line x1="321.5" y1="729" x2="321.5" y2="721.4" stroke="#b2dfdb"/><line x1="323.5" y1="729" x2="323.5" y2="722.5" stroke="#b2dfdb"/><line x1="326.5" y1="729" x2="326.5" y2="723.6" stroke="#b2dfdb"/><line x1="329.5" y1="729" x2="329.5" y2="724.1" stroke="#b2dfdb"/><line x1="332.5" y1="729" x2="332.5" y2="725.3" stroke="#b2dfdb"/><line x1="335.5" y1="729" x2="335.5" y2="725.9" stroke="#b2dfdb"/><line x1="338.5" y1="729" x2="338.5" y2="725.0" stroke="#4db6ac"/><line x1="341.5" y1="729" x2="341.5" y2="724.4" stroke="#4db6ac"/><line x1="344.5" y1="729" x2="344.5" y2="724.4" stroke="#4db6ac"/><line x1="347.5" y1="729" x2="347.5" y2="724.0" stroke="#4db6ac"/><line x1="350.5" y1="729" x2="350.5" y2="722.5" stroke="#4db6ac"/><line x1="353.5" y1="729" x2="353.5" y2="719.6" stroke="#4db6ac"/><line x1="356.5" y1="729" x2="356.5" y2="717.3" stroke="#4db6ac"/><line x1="358.5" y1="729" x2="358.5" y2="715.1" stroke="#4db6ac"/><line x1="361.5" y1="729" x2="361.5" y2="713.2" stroke="#4db6ac"/><line x1="364.5" y1="729" x2="364.5" y2="712.6" stroke="#4db6ac"/><line x1="367.5" y1="729" x2="367.5" y2="713.3" stroke="#b2dfdb"/><line x1="370.5" y1="729" x2="370.5" y2="715.1" stroke="#b2dfdb"/><line x1="373.5" y1="729" x2="373.5" y2="717.6" stroke="#b2dfdb"/><line x1="376.5" y1="729" x2="376.5" y2="720.6" stroke="#b2dfdb"/><line x1="379.5" y1="729" x2="379.5" y2="724.5" stroke="#b2dfdb"/><line x1="382.5" y1="729" x2="382.5" y2="728.7" stroke="#b2dfdb"/><line x1="385.5" y1="729" x2="385.5" y2="729.0" stroke="#b2dfdb"/><line x1="388.5" y1="729" x2="388.5" y2="728.9" stroke="#4db6ac"/><line x1="391.5" y1="729" x2="391.5" y2="728.3" stroke="#4db6ac"/><line x1="394.5" y1="729" x2="394.5" y2="727.3" stroke="#4db6ac"/><line x1="396.5" y1="729" x2="396.5" y2="726.2" stroke="#4db6ac"/><line x1="399.5" y1="729" x2="399.5" y2="725.2" stroke="#4db6ac"/><line x1="402.5" y1="729" x2="402.5" y2="727.6" stroke="#b2dfdb"/><line x1="405.5" y1="729" x2="405.5" y2="730.2" stroke="#ef6f6c"/><line x1="408.5" y1="729" x2="408.5" y2="732.0" stroke="#ef6f6c"/><line x1="411.5" y1="729" x2="411.5" y2="733.6" stroke="#ef6f6c"/><line x1="414.5" y1="729" x2="414.5" y2="734.3" stroke="#ef6f6c"/><line x1="417.5" y1="729" x2="417.5" y2="734.9" stroke="#ef6f6c"/><line x1="420.5" y1="729" x2="420.5" y2="735.3" stroke="#ef6f6c"/><line x1="423.5" y1="729" x2="423.5" y2="736.3" stroke="#ef6f6c"/><line x1="426.5" y1="729" x2="426.5" y2="737.4" stroke="#ef6f6c"/><line x1="429.5" y1="729" x2="429.5" y2="738.6" stroke="#ef6f6c"/><line x1="431.5" y1="729" x2="431.5" y2="737.6" stroke="#f9c0c4"/><line x1="434.5" y1="729" x2="434.5" y2="736.2" stroke="#f9c0c4"/><line x1="437.5" y1="729" x2="437.5" y2="734.4" stroke="#f9c0c4"/><line x1="440.5" y1="729" x2="440.5" y2="733.0" stroke="#f9c0c4"/><line x1="443.5" y1="729" x2="443.5" y2="734.3" stroke="#ef6f6c"/><line x1="446.5" y1="729" x2="446.5" y2="735.7" stroke="#ef6f6c"/><line x1="449.5" y1="729" x2="449.5" y2="737.1" stroke="#ef6f6c"/><line x1="452.5" y1="729" x2="452.5" y2="738.2" stroke="#ef6f6c"/><line x1="455.5" y1="729" x2="455.5" y2="738.6" stroke="#ef6f6c"/><line x1="458.5" y1="729" x2="458.5" y2="738.3" stroke="#f9c0c4"/><line x1="461.5" y1="729" x2="461.5" y2="737.6" stroke="#f9c0c4"/><line x1="464.5" y1="729" x2="464.5" y2="737.0" stroke="#f9c0c4"/><line x1="467.5" y1="729" x2="467.5" y2="737.0" stroke="#f9c0c4"/><line x1="469.5" y1="729" x2="469.5" y2="737.4" stroke="#ef6f6c"/><line x1="472.5" y1="729" x2="472.5" y2="738.2" stroke="#ef6f6c"/><line x1="475.5" y1="729" x2="475.5" y2="740.3" stroke="#ef6f6c"/><line x1="478.5" y1="729" x2="478.5" y2="741.4" stroke="#ef6f6c"/><line x1="481.5" y1="729" x2="481.5" y2="739.9" stroke="#f9c0c4"/><line x1="484.5" y1="729" x2="484.5" y2="738.0" stroke="#f9c0c4"/><line x1="487.5" y1="729" x2="487.5" y2="735.8" stroke="#f9c0c4"/><line x1="490.5" y1="729" x2="490.5" y2="733.6" stroke="#f9c0c4"/><line x1="493.5" y1="729" x2="493.5" y2="731.7" stroke="#f9c0c4"/><line x1="496.5" y1="729" x2="496.5" y2="730.2" stroke="#f9c0c4"/><line x1="499.5" y1="729" x2="499.5" y2="729.3" stroke="#f9c0c4"/><line x1="502.5" y1="729" x2="502.5" y2="728.6" stroke="#4db6ac"/><line x1="504.5" y1="729" x2="504.5" y2="728.3" stroke="#4db6ac"/><line x1="507.5" y1="729" x2="507.5" y2="728.5" stroke="#b2dfdb"/><line x1="510.5" y1="729" x2="510.5" y2="729.1" stroke="#ef6f6c"/><line x1="513.5" y1="729" x2="513.5" y2="728.7" stroke="#4db6ac"/><line x1="516.5" y1="729" x2="516.5" y2="727.9" stroke="#4db6ac"/><line x1="519.5" y1="729" x2="519.5" y2="726.4" stroke="#4db6ac"/><line x1="522.5" y1="729" x2="522.5" y2="726.0" stroke="#4db6ac"/><line x1="525.5" y1="729" x2="525.5" y2="726.3" stroke="#b2dfdb"/><line x1="528.5" y1="729" x2="528.5" y2="725.6" stroke="#4db6ac"/><line x1="531.5" y1="729" x2="531.5" y2="725.4" stroke="#4db6ac"/><line x1="534.5" y1="729" x2="534.5" y2="726.4" stroke="#b2dfdb"/><line x1="537.5" y1="729" x2="537.5" y2="727.5" stroke="#b2dfdb"/><line x1="540.5" y1="729" x2="540.5" y2="728.7" stroke="#b2dfdb"/><line x1="542.5" y1="729" x2="542.5" y2="729.9" stroke="#ef6f6c"/><line x1="545.5" y1="729" x2="545.5" y2="731.5" stroke="#ef6f6c"/><line x1="548.5" y1="729" x2="548.5" y2="734.0" stroke="#ef6f6c"/><line x1="551.5" y1="729" x2="551.5" y2="734.3" stroke="#ef6f6c"/><line x1="554.5" y1="729" x2="554.5" y2="734.0" stroke="#f9c0c4"/><line x1="557.5" y1="729" x2="557.5" y2="734.4" stroke="#ef6f6c"/><line x1="560.5" y1="729" x2="560.5" y2="734.5" stroke="#ef6f6c"/><line x1="563.5" y1="729" x2="563.5" y2="734.2" stroke="#f9c0c4"/><line x1="566.5" y1="729" x2="566.5" y2="734.4" stroke="#ef6f6c"/><line x1="569.5" y1="729" x2="569.5" y2="734.7" stroke="#ef6f6c"/><line x1="572.5" y1="729" x2="572.5" y2="735.2" stroke="#ef6f6c"/><line x1="575.5" y1="729" x2="575.5" y2="735.7" stroke="#ef6f6c"/><line x1="577.5" y1="729" x2="577.5" y2="736.3" stroke="#ef6f6c"/><line x1="580.5" y1="729" x2="580.5" y2="736.8" stroke="#ef6f6c"/><line x1="583.5" y1="729" x2="583.5" y2="736.1" stroke="#f9c0c4"/><line x1="586.5" y1="729" x2="586.5" y2="735.2" stroke="#f9c0c4"/><line x1="589.5" y1="729" x2="589.5" y2="734.7" stroke="#f9c0c4"/><line x1="592.5" y1="729" x2="592.5" y2="733.8" stroke="#f9c0c4"/><line x1="595.5" y1="729" x2="595.5" y2="733.0" stroke="#f9c0c4"/><line x1="598.5" y1="729" x2="598.5" y2="733.0" stroke="#f9c0c4"/><line x1="601.5" y1="729" x2="601.5" y2="733.5" stroke="#ef6f6c"/><line x1="604.5" y1="729" x2="604.5" y2="734.6" stroke="#ef6f6c"/><line x1="607.5" y1="729" x2="607.5" y2="735.3" stroke="#ef6f6c"/><line x1="610.5" y1="729" x2="610.5" y2="736.0" stroke="#ef6f6c"/><line x1="613.5" y1="729" x2="613.5" y2="736.8" stroke="#ef6f6c"/><line x1="615.5" y1="729" x2="615.5" y2="737.0" stroke="#ef6f6c"/><line x1="618.5" y1="729" x2="618.5" y2="737.0" stroke="#f9c0c4"/><line x1="621.5" y1="729" x2="621.5" y2="736.7" stroke="#f9c0c4"/><line x1="624.5" y1="729" x2="624.5" y2="736.9" stroke="#ef6f6c"/><line x1="627.5" y1="729" x2="627.5" y2="738.0" stroke="#ef6f6c"/><line x1="630.5" y1="729" x2="630.5" y2="739.5" stroke="#ef6f6c"/><line x1="633.5" y1="729" x2="633.5" y2="741.2" stroke="#ef6f6c"/><line x1="636.5" y1="729" x2="636.5" y2="742.4" stroke="#ef6f6c"/><line x1="639.5" y1="729" x2="639.5" y2="743.3" stroke="#ef6f6c"/><line x1="642.5" y1="729" x2="642.5" y2="744.1" stroke="#ef6f6c"/><line x1="645.5" y1="729" x2="645.5" y2="744.8" stroke="#ef6f6c"/><line x1="648.5" y1="729" x2="648.5" y2="745.4" stroke="#ef6f6c"/><line x1="650.5" y1="729" x2="650.5" y2="745.7" stroke="#ef6f6c"/><line x1="653.5" y1="729" x2="653.5" y2="745.5" stroke="#f9c0c4"/><line x1="656.5" y1="729" x2="656.5" y2="745.0" stroke="#f9c0c4"/><line x1="659.5" y1="729" x2="659.5" y2="743.8" stroke="#f9c0c4"/><line x1="662.5" y1="729" x2="662.5" y2="742.7" stroke="#f9c0c4"/><line x1="665.5" y1="729" x2="665.5" y2="741.5" stroke="#f9c0c4"/><line x1="668.5" y1="729" x2="668.5" y2="740.4" stroke="#f9c0c4"/><line x1="671.5" y1="729" x2="671.5" y2="739.4" stroke="#f9c0c4"/><line x1="674.5" y1="729" x2="674.5" y2="736.5" stroke="#f9c0c4"/><line x1="677.5" y1="729" x2="677.5" y2="733.9" stroke="#f9c0c4"/><line x1="680.5" y1="729" x2="680.5" y2="732.0" stroke="#f9c0c4"/><line x1="683.5" y1="729" x2="683.5" y2="731.9" stroke="#f9c0c4"/><line x1="686.5" y1="729" x2="686.5" y2="732.3" stroke="#ef6f6c"/><line x1="688.5" y1="729" x2="688.5" y2="732.3" stroke="#f9c0c4"/><line x1="691.5" y1="729" x2="691.5" y2="730.5" stroke="#f9c0c4"/><line x1="694.5" y1="729" x2="694.5" y2="728.2" stroke="#4db6ac"/><line x1="697.5" y1="729" x2="697.5" y2="726.6" stroke="#4db6ac"/><line x1="700.5" y1="729" x2="700.5" y2="726.5" stroke="#4db6ac"/><line x1="703.5" y1="729" x2="703.5" y2="727.4" stroke="#b2dfdb"/><line x1="706.5" y1="729" x2="706.5" y2="728.8" stroke="#b2dfdb"/><line x1="709.5" y1="729" x2="709.5" y2="729.8" stroke="#ef6f6c"/><line x1="712.5" y1="729" x2="712.5" y2="730.8" stroke="#ef6f6c"/><line x1="715.5" y1="729" x2="715.5" y2="732.5" stroke="#ef6f6c"/><line x1="718.5" y1="729" x2="718.5" y2="734.5" stroke="#ef6f6c"/><line x1="721.5" y1="729" x2="721.5" y2="736.7" stroke="#ef6f6c"/><line x1="723.5" y1="729" x2="723.5" y2="738.8" stroke="#ef6f6c"/><line x1="726.5" y1="729" x2="726.5" y2="740.9" stroke="#ef6f6c"/><line x1="729.5" y1="729" x2="729.5" y2="742.4" stroke="#ef6f6c"/><line x1="732.5" y1="729" x2="732.5" y2="743.2" stroke="#ef6f6c"/><line x1="735.5" y1="729" x2="735.5" y2="743.7" stroke="#ef6f6c"/><line x1="738.5" y1="729" x2="738.5" y2="743.6" stroke="#f9c0c4"/><line x1="741.5" y1="729" x2="741.5" y2="743.4" stroke="#f9c0c4"/><line x1="744.5" y1="729" x2="744.5" y2="742.8" stroke="#f9c0c4"/><line x1="747.5" y1="729" x2="747.5" y2="738.9" stroke="#f9c0c4"/><line x1="750.5" y1="729" x2="750.5" y2="736.4" stroke="#f9c0c4"/><line x1="753.5" y1="729" x2="753.5" y2="734.4" stroke="#f9c0c4"/><line x1="756.5" y1="729" x2="756.5" y2="733.4" stroke="#f9c0c4"/><line x1="759.5" y1="729" x2="759.5" y2="732.1" stroke="#f9c0c4"/><line x1="761.5" y1="729" x2="761.5" y2="730.3" stroke="#f9c0c4"/><line x1="764.5" y1="729" x2="764.5" y2="727.8" stroke="#4db6ac"/><line x1="767.5" y1="729" x2="767.5" y2="724.3" stroke="#4db6ac"/><line x1="770.5" y1="729" x2="770.5" y2="722.2" stroke="#4db6ac"/><line x1="773.5" y1="729" x2="773.5" y2="720.9" stroke="#4db6ac"/><line x1="776.5" y1="729" x2="776.5" y2="720.9" stroke="#b2dfdb"/><line x1="779.5" y1="729" x2="779.5" y2="722.1" stroke="#b2dfdb"/><line x1="782.5" y1="729" x2="782.5" y2="723.0" stroke="#b2dfdb"/><line x1="785.5" y1="729" x2="785.5" y2="723.8" stroke="#b2dfdb"/><line x1="788.5" y1="729" x2="788.5" y2="724.5" stroke="#b2dfdb"/><line x1="791.5" y1="729" x2="791.5" y2="725.5" stroke="#b2dfdb"/><line x1="794.5" y1="729" x2="794.5" y2="726.4" stroke="#b2dfdb"/><line x1="796.5" y1="729" x2="796.5" y2="726.7" stroke="#b2dfdb"/><line x1="799.5" y1="729" x2="799.5" y2="726.8" stroke="#b2dfdb"/><line x1="802.5" y1="729" x2="802.5" y2="726.8" stroke="#b2dfdb"/></g>
<line x1="1.0" y1="729" x2="109.5" y2="729" stroke="#4caf50" stroke-width="2"/>
<line x1="109.5" y1="729" x2="111.5" y2="729" stroke="#f23645" stroke-width="2"/>
<line x1="111.5" y1="729" x2="118.0" y2="729" stroke="#4caf50" stroke-width="2"/>
<line x1="118.0" y1="729" x2="123.5" y2="729" stroke="#f23645" stroke-width="2"/>
<line x1="123.5" y1="729" x2="155.5" y2="729" stroke="#4caf50" stroke-width="2"/>
<line x1="155.5" y1="729" x2="269.5" y2="729" stroke="#f23645" stroke-width="2"/>
<line x1="269.5" y1="729" x2="280.5" y2="729" stroke="#4caf50" stroke-width="2"/>
<line x1="280.5" y1="729" x2="304.0" y2="729" stroke="#f23645" stroke-width="2"/>
<line x1="304.0" y1="729" x2="386.0" y2="729" stroke="#4caf50" stroke-width="2"/>
<line x1="386.0" y1="729" x2="388.0" y2="729" stroke="#f23645" stroke-width="2"/>
<line x1="388.0" y1="729" x2="404.5" y2="729" stroke="#4caf50" stroke-width="2"/>
<line x1="404.5" y1="729" x2="500.5" y2="729" stroke="#f23645" stroke-width="2"/>
<line x1="500.5" y1="729" x2="511.0" y2="729" stroke="#4caf50" stroke-width="2"/>
<line x1="511.0" y1="729" x2="512.5" y2="729" stroke="#f23645" stroke-width="2"/>
<line x1="512.5" y1="729" x2="541.0" y2="729" stroke="#4caf50" stroke-width="2"/>
<line x1="541.0" y1="729" x2="694.0" y2="729" stroke="#f23645" stroke-width="2"/>
<line x1="694.0" y1="729" x2="707.0" y2="729" stroke="#4caf50" stroke-width="2"/>
<line x1="707.0" y1="729" x2="764.0" y2="729" stroke="#f23645" stroke-width="2"/>
<line x1="764.0" y1="729" x2="803" y2="729" stroke="#4caf50" stroke-width="2"/>
<polyline points="0.0,717.9 4.8,717.2 11.9,716.2 19.1,715.5 26.3,714.8 33.4,715.8 40.6,714.8 47.8,713.1 54.9,711.9 62.1,710.0 66.9,708.4 71.7,704.8 76.4,705.3 81.2,710.8 84.8,720.3 88.4,721.5 93.2,722.7 97.9,723.4 102.7,725.1 106.3,728.2 109.9,729.1 114.7,728.7 119.4,729.1 121.8,730.6 124.2,727.5 129.0,724.4 133.8,723.4 138.6,723.2 143.3,723.9 146.9,725.3 150.5,727.5 152.9,728.2 157.7,729.9 162.4,733.4 167.2,737.0 172.0,735.8 176.8,734.6 181.6,733.4 186.3,733.4 189.9,735.8 193.5,742.5 197.1,744.2 200.7,743.0 204.3,741.8 207.8,743.5 212.6,747.3 216.2,748.3 221.0,746.6 225.8,744.2 230.5,743.0 235.3,744.2 240.1,743.5 244.9,741.8 250.8,739.4 256.8,737.7 262.8,735.8 266.4,734.6 268.8,729.9 272.3,725.1 277.2,725.1 280.8,729.9 283.1,731.5 286.7,730.6 290.3,729.9 293.9,729.9 297.5,731.5 301.1,731.1 304.6,728.2 308.2,724.4 313.0,722.0 316.6,720.3 321.4,721.5 326.1,723.4 330.9,724.4 334.5,726.3 338.1,725.1 341.7,724.4 346.4,724.4 350.0,722.7 353.6,719.1 358.4,715.5 362.0,713.1 365.6,712.4 369.1,713.9 372.7,716.7 376.3,720.3 379.9,725.1 382.3,728.7 387.1,729.1 391.8,728.2 396.6,726.3 400.2,725.1 402.6,727.5 406.2,730.6 410.9,733.4 415.7,734.6 420.5,735.4 425.3,737.0 428.9,738.7 433.6,737.0 437.2,734.6 440.8,733.0 444.4,734.6 449.2,737.0 453.9,738.7 458.7,738.2 463.5,737.0 468.3,737.0 473.1,738.2 477.8,741.8 482.6,739.4 487.4,735.8 492.2,732.3 496.9,729.9 501.7,728.7 506.5,728.2 511.3,729.1 516.1,728.2 520.8,725.8 525.6,726.3 530.4,725.1 535.2,726.8 539.9,728.7 544.8,730.6 549.6,734.6 554.3,733.9 559.1,734.6 563.9,734.2 568.7,734.6 573.4,735.4 578.2,736.3 581.8,737.0 585.4,735.4 590.2,734.6 594.9,733.0 599.7,733.0 604.5,734.6 609.3,735.8 614.1,737.0 618.8,737.0 623.6,736.6 628.4,738.2 633.2,741.1 637.9,743.0 642.7,744.2 647.5,745.4 652.3,745.9 657.1,744.9 661.8,743.0 666.6,741.1 671.4,739.4 676.2,734.6 680.9,731.5 685.7,732.3 689.3,732.3 692.9,729.9 696.5,726.8 700.1,726.3 703.6,727.5 707.2,729.1 712.0,730.6 716.8,733.4 721.6,737.0 726.3,740.6 731.1,743.0 735.9,743.7 740.7,743.5 744.3,743.0 747.8,738.2 752.6,734.6 757.4,733.0 761.0,731.1 764.6,728.2 768.1,723.9 771.7,721.5 775.3,720.3 778.9,722.0 783.7,723.4 788.4,724.6 793.2,726.3 798.0,726.8 802.8,726.8" fill="none" stroke="#3f62d0" stroke-width="1.1"/>
<text x="10.5" y="711.2" font-size="12.4" fill="#131722" style="color:#131722" font-weight="normal" text-anchor="start" >Disparity_Index 5 21 close 7 EMA EMA</text>
<text x="237" y="711.2" font-size="12.4" fill="#a9d8d3" style="color:#a9d8d3" font-weight="normal" text-anchor="start" >1</text>
<text x="249" y="711.2" font-size="12.4" fill="#3f62d0" style="color:#3f62d0" font-weight="normal" text-anchor="start" >1</text>
<text x="261" y="711.2" font-size="12.4" fill="#4caf50" style="color:#4caf50" font-weight="normal" text-anchor="start" >0</text>
<rect x="1" y="787.3" width="1111" height="41" fill="#7e57c2" fill-opacity="0.1"/>
<line x1="1" y1="787.5" x2="1106" y2="787.5" stroke="#e57373" stroke-width="1" stroke-dasharray="4.5 6.5"/>
<line x1="1" y1="828.5" x2="1106" y2="828.5" stroke="#5b9e5f" stroke-width="1" stroke-dasharray="4.5 6.5"/>
<line x1="1" y1="799.5" x2="1112" y2="799.5" stroke="#d05ce3" stroke-width="1"/>
<line x1="1" y1="816.5" x2="1112" y2="816.5" stroke="#3cc49a" stroke-width="1"/>
<line x1="0" y1="807.3" x2="82" y2="807.3" stroke="#1f3fc4" stroke-width="3"/>
<line x1="82" y1="807.3" x2="84" y2="807.3" stroke="#e3101e" stroke-width="3"/>
<line x1="84" y1="807.3" x2="100" y2="807.3" stroke="#1f3fc4" stroke-width="3"/>
<line x1="100" y1="807.3" x2="102" y2="807.3" stroke="#e3101e" stroke-width="3"/>
<line x1="102" y1="807.3" x2="107" y2="807.3" stroke="#1f3fc4" stroke-width="3"/>
<line x1="107" y1="807.3" x2="110" y2="807.3" stroke="#e3101e" stroke-width="3"/>
<line x1="110" y1="807.3" x2="113" y2="807.3" stroke="#1f3fc4" stroke-width="3"/>
<line x1="113" y1="807.3" x2="121" y2="807.3" stroke="#1f3fc4" stroke-width="3"/>
<line x1="121" y1="807.3" x2="123" y2="807.3" stroke="#e3101e" stroke-width="3"/>
<line x1="123" y1="807.3" x2="147" y2="807.3" stroke="#1f3fc4" stroke-width="3"/>
<line x1="147" y1="807.3" x2="303.4" y2="807.3" stroke="#e3101e" stroke-width="3"/>
<line x1="303.4" y1="807.3" x2="331" y2="807.3" stroke="#1f3fc4" stroke-width="3"/>
<line x1="331" y1="807.3" x2="334.5" y2="807.3" stroke="#e3101e" stroke-width="3"/>
<line x1="334.5" y1="807.3" x2="380" y2="807.3" stroke="#1f3fc4" stroke-width="3"/>
<line x1="380" y1="807.3" x2="388" y2="807.3" stroke="#e3101e" stroke-width="3"/>
<line x1="388" y1="807.3" x2="399" y2="807.3" stroke="#1f3fc4" stroke-width="3"/>
<line x1="399" y1="807.3" x2="485" y2="807.3" stroke="#e3101e" stroke-width="3"/>
<line x1="485" y1="807.3" x2="490" y2="807.3" stroke="#1f3fc4" stroke-width="3"/>
<line x1="490" y1="807.3" x2="494" y2="807.3" stroke="#e3101e" stroke-width="3"/>
<line x1="494" y1="807.3" x2="498" y2="807.3" stroke="#1f3fc4" stroke-width="3"/>
<line x1="498" y1="807.3" x2="502" y2="807.3" stroke="#e3101e" stroke-width="3"/>
<line x1="502" y1="807.3" x2="509" y2="807.3" stroke="#1f3fc4" stroke-width="3"/>
<line x1="509" y1="807.3" x2="530" y2="807.3" stroke="#1f3fc4" stroke-width="3"/>
<line x1="530" y1="807.3" x2="693" y2="807.3" stroke="#e3101e" stroke-width="3"/>
<line x1="693" y1="807.3" x2="700" y2="807.3" stroke="#1f3fc4" stroke-width="3"/>
<line x1="700" y1="807.3" x2="758.6" y2="807.3" stroke="#e3101e" stroke-width="3"/>
<line x1="758.6" y1="807.3" x2="803" y2="807.3" stroke="#1f3fc4" stroke-width="3"/>
<ellipse cx="799" cy="807" rx="4" ry="3" fill="#1f3fc4"/>
<polyline points="0.0,807.5 11.9,803.9 23.9,801.0 35.8,798.6 47.8,796.2 59.7,793.1 69.3,791.5 76.4,790.8 86.0,793.1 95.6,795.5 107.5,797.9 119.4,800.3 131.4,801.5 143.3,802.0 155.3,803.9 167.2,806.3 179.2,808.7 191.1,810.6 203.1,812.3 215.0,813.9 226.9,815.4 238.9,816.3 250.8,816.3 262.8,815.8 281.9,814.6 293.9,813.0 305.8,810.6 317.8,808.7 329.7,806.8 341.7,805.8 353.6,803.9 365.6,802.0 375.1,802.0 384.7,802.7 394.2,803.9 403.8,805.1 413.3,806.3 425.3,808.2 437.2,809.9 449.2,811.1 461.1,811.5 473.1,812.3 480.2,811.1 489.8,810.3 499.3,809.9 508.9,809.1 518.4,808.7 528.0,808.2 535.2,807.5 547.2,810.1 551.9,811.1 563.9,812.3 575.8,813.4 587.8,814.6 599.7,815.8 611.7,817.0 623.6,818.7 635.6,820.6 647.5,821.8 659.4,821.1 671.4,819.4 683.3,817.7 695.3,816.3 707.2,815.8 719.2,815.8 731.1,817.0 743.1,817.7 755.0,817.0 766.9,813.4 778.9,811.1 790.8,809.9 802.8,808.2" fill="none" stroke="#555b66" stroke-width="1" stroke-linejoin="round"/>
<polyline points="0.0,800.3 7.2,795.5 14.3,793.1 23.9,791.5 35.8,791.9 47.8,788.4 57.3,784.8 64.5,781.2 69.3,781.9 74.1,786.0 78.8,790.8 83.6,797.9 88.4,800.3 95.6,802.7 102.7,803.9 112.3,806.3 119.4,806.3 126.6,802.7 133.8,801.5 143.3,802.0 150.5,805.1 157.7,808.2 164.8,812.3 172.0,813.4 179.2,812.3 186.3,814.6 193.5,818.2 200.7,819.4 207.8,819.4 215.0,821.1 224.6,821.1 234.1,820.1 243.7,818.9 253.2,817.0 262.8,815.8 269.9,808.7 277.2,807.5 284.3,809.9 293.9,810.6 303.4,805.1 310.6,802.7 317.8,802.0 327.3,803.9 334.5,805.1 341.7,803.9 348.8,802.0 354.8,796.7 360.8,791.9 365.6,789.6 370.3,791.5 375.1,797.9 379.9,803.9 384.7,806.3 391.8,805.1 399.0,803.9 406.2,807.5 413.3,809.9 420.5,812.3 427.7,813.4 434.8,811.8 442.0,810.6 449.2,813.4 456.3,815.4 463.5,815.4 470.7,815.8 477.8,818.2 485.0,812.3 492.2,809.9 499.3,808.7 508.9,807.5 518.4,805.8 528.0,805.1 535.2,806.8 547.2,812.3 554.3,813.4 561.5,813.9 568.7,814.6 575.8,815.4 583.0,815.4 590.2,813.9 597.3,813.4 604.5,815.8 611.7,817.7 618.8,818.7 626.0,820.6 633.2,823.5 640.3,826.6 647.5,829.0 654.7,829.0 661.8,826.6 669.0,821.8 676.2,815.8 683.3,813.4 690.5,812.3 697.7,807.5 702.4,807.5 707.2,809.9 712.0,812.3 719.2,815.8 726.3,819.4 733.5,821.8 740.7,822.5 747.8,818.2 755.0,813.4 762.2,809.9 769.3,805.1 776.5,799.1 781.3,798.6 788.4,801.5 795.6,805.1 802.8,806.8" fill="none" stroke="#b03ad6" stroke-width="1.1" stroke-linejoin="round"/>
<polyline points="0.0,793.1 3.6,795.5 7.2,794.3 11.9,791.9 16.7,790.8 20.3,791.9 23.9,790.0 27.5,791.5 31.1,790.8 35.8,796.7 40.6,790.8 45.4,788.4 50.2,784.8 54.9,783.6 59.7,782.4 64.5,780.0 68.1,781.2 71.7,784.8 76.4,789.6 80.0,793.1 82.4,806.3 84.8,807.5 87.2,799.1 92.0,801.5 95.6,802.7 100.3,803.9 105.1,807.5 109.9,806.3 114.7,806.3 119.4,808.2 121.8,806.3 124.2,803.9 127.8,801.5 131.4,801.0 136.2,802.7 140.9,801.0 144.5,802.7 146.9,803.9 150.5,806.3 155.3,808.7 158.9,809.9 162.4,812.3 166.0,815.8 168.4,818.2 172.0,814.6 176.8,811.1 181.6,811.1 185.1,813.4 188.7,815.8 191.1,821.8 194.7,824.2 198.3,819.4 201.9,819.4 205.4,817.0 209.0,819.4 212.6,823.0 216.2,821.8 219.8,820.6 224.6,821.8 229.3,820.6 234.1,819.4 238.9,820.6 243.7,818.2 248.4,820.6 253.2,817.0 258.0,815.8 262.8,817.0 267.6,815.8 271.1,803.9 272.4,797.9 273.5,797.9 274.8,803.9 278.4,809.9 281.9,814.6 285.5,809.9 289.1,809.9 293.9,811.1 298.7,811.1 303.4,806.3 307.0,801.5 310.6,802.7 315.4,799.1 320.2,801.5 324.9,802.7 329.7,806.3 333.3,805.1 336.9,803.9 340.5,801.5 344.1,802.7 348.8,801.5 352.4,795.5 356.0,793.1 359.6,789.6 363.2,788.4 366.8,790.8 370.3,795.5 375.1,801.5 379.9,805.1 383.5,811.1 387.1,806.3 391.8,803.9 395.4,802.7 399.0,801.5 401.4,806.3 406.2,809.9 413.3,811.1 418.1,813.4 422.9,815.8 426.5,818.2 430.1,813.4 434.8,811.1 439.6,809.9 442.0,808.7 446.8,815.8 451.6,817.0 456.3,817.0 461.1,813.4 465.9,815.8 470.7,814.6 475.4,818.2 479.0,821.8 482.6,815.8 486.2,807.5 489.8,808.7 494.6,807.5 499.3,808.7 504.1,807.5 508.9,808.7 513.7,806.3 520.8,803.9 525.6,806.3 530.4,803.9 535.2,807.5 539.9,808.7 544.8,812.3 549.6,817.7 553.1,813.4 556.7,811.1 560.3,814.6 563.9,812.3 568.7,813.4 573.4,815.4 578.2,815.8 581.8,817.7 585.4,814.6 590.2,813.4 594.9,810.6 599.7,813.9 604.5,814.6 609.3,818.7 614.1,817.7 618.8,817.0 623.6,819.4 628.4,820.1 633.2,824.2 637.9,826.6 642.7,827.8 647.5,829.0 651.1,830.2 654.7,829.0 659.4,826.6 664.2,823.0 669.0,821.8 672.6,815.8 676.2,810.6 679.8,809.9 683.3,813.4 686.9,815.4 690.5,813.4 694.1,808.7 696.5,802.7 698.9,801.5 701.3,806.3 704.8,812.3 708.4,813.4 710.8,809.9 714.4,814.6 719.2,817.7 723.9,820.6 728.7,823.0 731.1,825.4 733.5,822.5 738.3,823.0 743.1,823.5 747.8,818.2 750.2,811.5 753.8,811.1 757.4,809.9 761.0,807.5 764.6,803.9 768.1,799.1 771.7,795.5 775.3,795.5 777.7,797.9 780.1,803.9 783.7,803.4 788.4,804.4 793.2,806.3 798.0,806.8 802.8,808.2" fill="none" stroke="#4a47d6" stroke-width="1.1" stroke-linejoin="round"/>
<text x="10.3" y="778.2" font-size="12.4" fill="#131722" style="color:#131722" font-weight="normal" text-anchor="start"  textLength="190" lengthAdjust="spacingAndGlyphs">JK_RSI close 14 25 75 50 5 S S 34</text>
<text x="208" y="778.2" font-size="12.4" fill="#3f3fb8" style="color:#3f3fb8" font-weight="normal" text-anchor="start" >53,41</text>
<text x="246.6" y="778.2" font-size="12.4" fill="#434651" style="color:#434651" font-weight="normal" text-anchor="start" >48,09</text>
<text x="284.2" y="778.2" font-size="12.4" fill="#a030c0" style="color:#a030c0" font-weight="normal" text-anchor="start" >52,56</text>
<text x="322.4" y="778.2" font-size="12.4" fill="#3050c0" style="color:#3050c0" font-weight="normal" text-anchor="start" >50,00</text>
<g fill="#fff" stroke="#fff" stroke-width="4" stroke-linejoin="round"><path d="M13,811.3 H24.8 V825.8 H19.1 V816.6 H13 Z"/><circle cx="29.9" cy="814" r="2.7"/><path d="M36.3,811.3 H42.6 L36.7,825.8 H30.4 Z"/><rect x="13" y="811.3" width="29" height="5"/></g>
<g fill="#000"><path d="M13,811.3 H24.8 V825.8 H19.1 V816.6 H13 Z"/><circle cx="29.9" cy="814" r="2.7"/><path d="M36.3,811.3 H42.6 L36.7,825.8 H30.4 Z"/></g>
<rect x="1113" y="690" width="53" height="66" fill="#fff"/>
<rect x="1113" y="757.5" width="53" height="82.5" fill="#fff"/>
<line x1="1112.5" y1="689" x2="1112.5" y2="868" stroke="#e0e3eb" stroke-width="1"/>
<rect x="0" y="688.7" width="1166" height="1.1" fill="#30409a"/>
<rect x="0" y="756.2" width="1166" height="1.1" fill="#30409a"/>
<svg x="1113" y="689.8" width="30" height="12" overflow="hidden"><rect x="0.3" y="-4" width="25.7" height="15.6" rx="2" fill="#2850e6"/><text x="12.8" y="9.5" font-size="11.6" fill="#fff" text-anchor="middle">25</text></svg>
<rect x="1065.3" y="702.3" width="46.799999999999955" height="16.600000000000023" rx="2" fill="#2962ff"/>
<text x="1068.6" y="714.8" font-size="11.6" fill="#fff" style="color:#fff" font-weight="bold" text-anchor="start"  textLength="39.6" lengthAdjust="spacingAndGlyphs">Pista_C</text>
<rect x="1113.2" y="702.3" width="19.700000000000045" height="16.600000000000023" rx="2" fill="#2962ff"/>
<text x="1123.0500000000002" y="714.8" font-size="11.6" fill="#fff" style="color:#fff" font-weight="bold" text-anchor="middle" >1</text>
<rect x="1049" y="719.4" width="63.09999999999991" height="16.100000000000023" rx="2" fill="#b2dfdb"/>
<text x="1054.1" y="731.6500000000001" font-size="11.6" fill="#131722" style="color:#131722" font-weight="normal" text-anchor="start"  textLength="53.5" lengthAdjust="spacingAndGlyphs">Histogram</text>
<rect x="1113.2" y="719.4" width="19.700000000000045" height="16.100000000000023" rx="2" fill="#b2dfdb"/>
<text x="1123.0500000000002" y="731.6500000000001" font-size="11.6" fill="#131722" style="color:#131722" font-weight="normal" text-anchor="middle" >1</text>
<rect x="1056.9" y="736.3" width="55.19999999999982" height="16.300000000000068" rx="2" fill="#4caf50"/>
<text x="1061.3" y="748.6500000000001" font-size="11.6" fill="#eaffea" style="color:#eaffea" font-weight="bold" text-anchor="start"  textLength="46.8" lengthAdjust="spacingAndGlyphs">ZeroLine</text>
<rect x="1113.2" y="736.3" width="19.700000000000045" height="16.300000000000068" rx="2" fill="#4caf50"/>
<text x="1123.0500000000002" y="748.6500000000001" font-size="11.6" fill="#eaffea" style="color:#eaffea" font-weight="bold" text-anchor="middle" >0</text>
<text x="1121.5" y="786.2" font-size="11.6" fill="#131722" style="color:#131722" font-weight="normal" text-anchor="start" >80,00</text>
<rect x="1068.2" y="797.3" width="43.59999999999991" height="16.0" rx="2" fill="#3535b0"/>
<text x="1072.9" y="809.5" font-size="11.6" fill="#fff" style="color:#fff" font-weight="bold" text-anchor="start"  textLength="35.6" lengthAdjust="spacingAndGlyphs">JK_RSI</text>
<rect x="1113.4" y="797.3" width="42.0" height="16.0" rx="2" fill="#3535b0"/>
<text x="1120.8" y="809.5" font-size="11.6" fill="#fff" style="color:#fff" font-weight="bold" text-anchor="start"  textLength="29.5" lengthAdjust="spacingAndGlyphs">53,41</text>
<rect x="1098" y="814.3" width="13.799999999999955" height="16.0" rx="2" fill="#a033c0"/>
<text x="1101.2" y="826.5" font-size="11.6" fill="#fff" style="color:#fff" font-weight="bold" text-anchor="start"  textLength="7.5" lengthAdjust="spacingAndGlyphs">S</text>
<rect x="1113.4" y="814.3" width="42.0" height="16.0" rx="2" fill="#a033c0"/>
<text x="1120.8" y="826.5" font-size="11.6" fill="#fff" style="color:#fff" font-weight="bold" text-anchor="start"  textLength="29.5" lengthAdjust="spacingAndGlyphs">52,56</text>
<svg x="1085" y="831" width="75" height="9" overflow="hidden"><rect x="6.2" y="0.3" width="20.6" height="16" rx="2" fill="#1e3fbf"/><text x="16.5" y="13" font-size="11.6" fill="#fff" text-anchor="middle">50</text><rect x="28.4" y="0.3" width="42" height="16" rx="2" fill="#1e3fbf"/><text x="49.4" y="13" font-size="11.6" fill="#fff" text-anchor="middle">50,00</text></svg>
<rect x="1" y="840" width="1165" height="28" fill="#fff"/>
<line x1="1" y1="840.5" x2="1166" y2="840.5" stroke="#e0e3eb" stroke-width="1"/>
<line x1="1112.5" y1="840" x2="1112.5" y2="868" stroke="#e0e3eb" stroke-width="1"/>
<text x="33" y="858.2" font-size="12" fill="#131722" style="color:#131722" font-weight="normal" text-anchor="middle" >Dic</text>
<text x="93.2" y="858.2" font-size="12" fill="#131722" style="color:#131722" font-weight="bold" text-anchor="middle" >2025</text>
<text x="153.2" y="858.2" font-size="12" fill="#131722" style="color:#131722" font-weight="normal" text-anchor="middle" >Feb</text>
<text x="208" y="858.2" font-size="12" fill="#131722" style="color:#131722" font-weight="normal" text-anchor="middle" >Mar</text>
<text x="268.3" y="858.2" font-size="12" fill="#131722" style="color:#131722" font-weight="normal" text-anchor="middle" >Apr</text>
<text x="328.4" y="858.2" font-size="12" fill="#131722" style="color:#131722" font-weight="normal" text-anchor="middle" >Mag</text>
<text x="389.3" y="858.2" font-size="12" fill="#131722" style="color:#131722" font-weight="normal" text-anchor="middle" >Giu</text>
<text x="569.7" y="858.2" font-size="12" fill="#131722" style="color:#131722" font-weight="normal" text-anchor="middle" >Set</text>
<text x="630" y="858.2" font-size="12" fill="#131722" style="color:#131722" font-weight="normal" text-anchor="middle" >Ott</text>
<text x="696.2" y="858.2" font-size="12" fill="#131722" style="color:#131722" font-weight="normal" text-anchor="middle" >Nov</text>
<text x="751" y="858.2" font-size="12" fill="#131722" style="color:#131722" font-weight="normal" text-anchor="middle" >Dic</text>
<text x="814.2" y="858.2" font-size="12" fill="#131722" style="color:#131722" font-weight="bold" text-anchor="middle" >2026</text>
<text x="871.4" y="858.2" font-size="12" fill="#131722" style="color:#131722" font-weight="normal" text-anchor="middle" >Feb</text>
<text x="926.3" y="858.2" font-size="12" fill="#131722" style="color:#131722" font-weight="normal" text-anchor="middle" >Mar</text>
<text x="989" y="858.2" font-size="12" fill="#131722" style="color:#131722" font-weight="normal" text-anchor="middle" >Apr</text>
<text x="1049.5" y="858.2" font-size="12" fill="#131722" style="color:#131722" font-weight="normal" text-anchor="middle" >Mag</text>
<svg x="1090" y="840" width="22" height="28" overflow="hidden"><text x="18" y="18.2" font-size="12" fill="#131722" text-anchor="middle">Giu</text></svg>
<rect x="430" y="840" width="97" height="24" rx="2" fill="#f23645"/>
<text x="477.7" y="857" font-size="12" fill="#fff" style="color:#fff" font-weight="bold" text-anchor="middle"  textLength="78" lengthAdjust="spacingAndGlyphs">gio 17-07-2025</text>
<g transform="translate(1139.7,854.1)" fill="none" stroke="#131722" stroke-width="1.3"><path d="M-7,0 L-3.5,-6 H3.5 L7,0 L3.5,6 H-3.5 Z"/><circle r="2.2"/></g>
<circle cx="19" cy="59.3" r="9" fill="#6b3a22"/>
<g fill="#f4e7dc"><ellipse cx="19" cy="59.3" rx="3.2" ry="5.2"/></g><line x1="19" y1="54.5" x2="19" y2="64" stroke="#6b3a22" stroke-width="1"/>
<text x="32.5" y="65" font-size="15" fill="#131722" style="color:#131722" font-weight="normal" text-anchor="start"  textLength="184.5" lengthAdjust="spacingAndGlyphs">Cocoa Futures · 1D · ICEUS</text>
<rect x="224.2" y="50.1" width="38.9" height="16.9" rx="8.45" fill="#efeff0"/>
<path d="M242.6,50.1 H254.65 A8.45,8.45 0 0 1 254.65,67 H242.6 Z" fill="#fff2e2"/>
<rect x="230.1" y="57.3" width="10" height="3.3" rx="1.65" fill="#9a9a9a"/>
<text x="253.3" y="63.7" font-size="13" fill="#f57c00" style="color:#f57c00" font-weight="bold" text-anchor="middle" >D</text>
<text x="272.7" y="64.2" font-size="12.6" fill="#131722" style="color:#131722" font-weight="normal" text-anchor="start" >O - Aper.</text>
<text x="324.7" y="64.2" font-size="12.6" fill="#de5660" style="color:#de5660" font-weight="normal" text-anchor="start" >5.983</text>
<text x="362.4" y="64.2" font-size="12.6" fill="#131722" style="color:#131722" font-weight="normal" text-anchor="start" >H - Max.</text>
<text x="412" y="64.2" font-size="12.6" fill="#de5660" style="color:#de5660" font-weight="normal" text-anchor="start" >6.058</text>
<text x="450.5" y="64.2" font-size="12.6" fill="#131722" style="color:#131722" font-weight="normal" text-anchor="start" >L - Min.</text>
<text x="494.7" y="64.2" font-size="12.6" fill="#de5660" style="color:#de5660" font-weight="normal" text-anchor="start" >5.866</text>
<text x="532.8" y="64.2" font-size="12.6" fill="#131722" style="color:#131722" font-weight="normal" text-anchor="start" >C - Chius.</text>
<text x="590.6" y="64.2" font-size="12.6" fill="#de5660" style="color:#de5660" font-weight="normal" text-anchor="start" >5.953</text>
<text x="627.9" y="64.2" font-size="12.6" fill="#de5660" style="color:#de5660" font-weight="normal" text-anchor="start"  textLength="73.5" lengthAdjust="spacingAndGlyphs">−13 (−0,22%)</text>
<rect x="9.7" y="75.9" width="53.5" height="32.5" rx="5" fill="#fff" stroke="#e36b73" stroke-width="1"/>
<text x="36.4" y="89.5" font-size="12.6" fill="#e0404a" style="color:#e0404a" font-weight="bold" text-anchor="middle" >5.946</text>
<text x="36.4" y="103.3" font-size="10.8" fill="#e0404a" style="color:#e0404a" font-weight="normal" text-anchor="middle"  textLength="30" lengthAdjust="spacingAndGlyphs">VENDI</text>
<rect x="85.8" y="75.9" width="63.5" height="32.5" rx="5" fill="#fff" stroke="#3e63d9" stroke-width="1"/>
<text x="117.5" y="89.5" font-size="12.6" fill="#2f5ee0" style="color:#2f5ee0" font-weight="bold" text-anchor="middle" >5.949</text>
<text x="117.5" y="103.3" font-size="10.8" fill="#2f5ee0" style="color:#2f5ee0" font-weight="normal" text-anchor="middle"  textLength="42" lengthAdjust="spacingAndGlyphs">COMPRA</text>
<text x="73.7" y="95.5" font-size="10.5" fill="#131722" style="color:#131722" font-weight="normal" text-anchor="middle" >3</text>
<rect x="-6" y="6.5" width="154.5" height="27" rx="13.5" fill="#fff" stroke="#e6e7ea" stroke-width="1"/>
<line x1="97.5" y1="7" x2="97.5" y2="33" stroke="#e6e7ea" stroke-width="1"/>
<g fill="none" stroke="#131722" stroke-width="1.4"><circle cx="13" cy="18.8" r="5.6"/><line x1="17" y1="22.8" x2="20.8" y2="26.6"/></g>
<text x="27.3" y="25" font-size="15" fill="#131722" style="color:#131722" font-weight="bold" text-anchor="start"  textLength="30" lengthAdjust="spacingAndGlyphs">CC1!</text>
<g fill="none" stroke="#131722" stroke-width="1.3" stroke-linejoin="round"><path d="M107.4,19.1 L109.8,14.2 H120 L122.4,19.1 L115,26.2 Z"/></g>
<g fill="#131722"><ellipse cx="112.4" cy="18.8" rx="1.3" ry="1.2"/><ellipse cx="117.5" cy="18.8" rx="1.3" ry="1.2"/></g><path d="M112.4,16.3 V20.6 M117.5,16.3 V20.6" stroke="#131722" stroke-width="1"/>
<path d="M129.2,18.3 L133,21.6 L136.7,18.3" fill="none" stroke="#131722" stroke-width="1.3"/>
<g fill="none" stroke="#131722" stroke-width="1.3"><circle cx="168.5" cy="20.2" r="9.3"/><path d="M168.5,15 V25.4 M163.3,20.2 H173.7"/></g>
<line x1="192.5" y1="9" x2="192.5" y2="31" stroke="#e6e7ea" stroke-width="1"/>
<line x1="238.5" y1="9" x2="238.5" y2="31" stroke="#e6e7ea" stroke-width="1"/>
<line x1="285.5" y1="9" x2="285.5" y2="31" stroke="#e6e7ea" stroke-width="1"/>
<line x1="439.5" y1="9" x2="439.5" y2="31" stroke="#e6e7ea" stroke-width="1"/>
<line x1="615.5" y1="9" x2="615.5" y2="31" stroke="#e6e7ea" stroke-width="1"/>
<text x="215.5" y="25" font-size="14" fill="#131722" style="color:#131722" font-weight="normal" text-anchor="middle" >D</text>
<g fill="none" stroke="#131722" stroke-width="1.3"><path d="M258.3,13 V28.8 M258.3,15.4 H261.8 M255.1,26.6 H258.3 M266.6,12.2 V27.5 M263.1,19.4 H266.6 M266.6,24.5 H269.8"/></g>
<g fill="none" stroke="#131722" stroke-width="1.3" stroke-linejoin="round"><path d="M301.2,17.6 L306.3,12.8 L310.5,16 L317.8,10.9"/><path d="M301.7,28.5 V24.6 H305.3 V28.5 Z M305.3,28.5 V21.4 H309.3 V28.5 Z M309.3,28.5 V23.7 H313.5 V28.5 Z M313.5,28.5 V18.6 H317.4 V28.5 Z"/></g>
<text x="327.8" y="25" font-size="14" fill="#131722" style="color:#131722" font-weight="normal" text-anchor="start"  textLength="60" lengthAdjust="spacingAndGlyphs">Indicatori</text>
<g fill="none" stroke="#131722" stroke-width="1.3"><rect x="408.6" y="12.5" width="5.6" height="5.8" rx="1.8"/><rect x="417.8" y="12.5" width="5.6" height="5.8" rx="1.8"/><rect x="408.6" y="21.6" width="5.6" height="5.8" rx="1.8"/><rect x="417.8" y="21.6" width="5.6" height="5.8" rx="1.8"/></g>
<g fill="none" stroke="#131722" stroke-width="1.3"><path d="M470.3,20.6 A8.2,8.2 0 1 0 462.6,28.5"/><path d="M462.1,15.4 V20.3 H459.2"/><path d="M452.9,14.9 L456.7,10.8 M468.3,10.8 L471.9,14.6"/><path d="M468.5,22.4 V30.6 M464.3,26.4 H472.7"/></g>
<text x="482" y="25" font-size="14" fill="#131722" style="color:#131722" font-weight="normal" text-anchor="start" >Alert</text>
<g fill="none" stroke="#131722" stroke-width="1.3" stroke-linejoin="miter"><path d="M540.6,15.2 L534.8,20.4 L540.6,25.8 Z"/><path d="M548.5,15.2 L542.8,20.4 L548.5,25.8 Z"/></g>
<text x="560" y="24.7" font-size="13.2" fill="#131722" style="color:#131722" font-weight="normal" text-anchor="start"  textLength="41" lengthAdjust="spacingAndGlyphs">Replay</text>
<g fill="none" stroke="#131722" stroke-width="1.3" stroke-linecap="round" stroke-linejoin="round"><path d="M636,15.5 L632.5,19 L636,22.5 M632.5,19 H640 A4.5,4.5 0 0 1 644.5,23.5 V25"/></g>
<g fill="none" stroke="#b2b5be" stroke-width="1.3" stroke-linecap="round" stroke-linejoin="round"><path d="M679.5,15.5 L683,19 L679.5,22.5 M683,19 H675.5 A4.5,4.5 0 0 0 671,23.5 V25"/></g>
</svg></body></html>
